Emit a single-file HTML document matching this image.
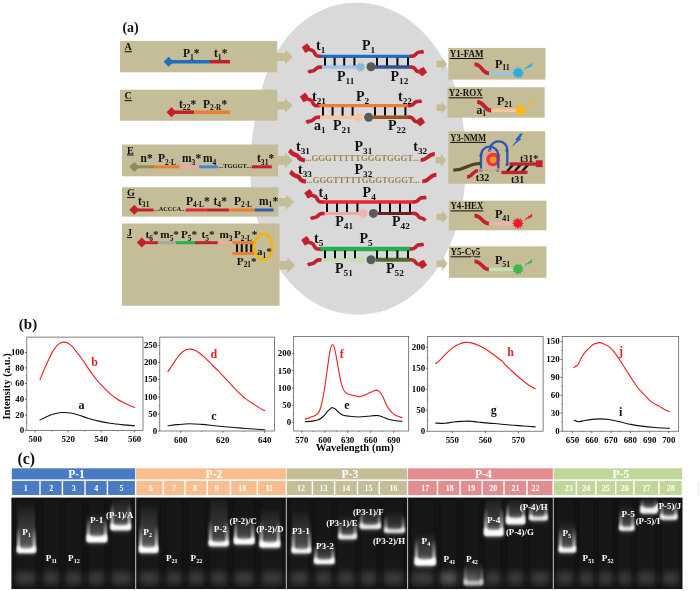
<!DOCTYPE html>
<html lang="en"><head><meta charset="utf-8"><title>Figure</title>
<style>html,body{margin:0;padding:0;background:#fff;}svg{display:block;}</style></head>
<body>
<svg width="700" height="591" viewBox="0 0 700 591">
<defs><filter id="b0" x="-30%" y="-60%" width="160%" height="220%"><feGaussianBlur stdDeviation="0.9"/></filter><linearGradient id="gw" x1="0" y1="0" x2="0" y2="1"><stop offset="0" stop-color="#fff" stop-opacity="0"/><stop offset="0.6" stop-color="#fff" stop-opacity="0.6"/><stop offset="1" stop-color="#fff" stop-opacity="1"/></linearGradient><filter id="b1" x="-30%" y="-60%" width="160%" height="220%"><feGaussianBlur stdDeviation="1.1"/></filter><filter id="b2" x="-30%" y="-60%" width="160%" height="220%"><feGaussianBlur stdDeviation="2.2"/></filter><filter id="b3" x="-40%" y="-40%" width="180%" height="180%"><feGaussianBlur stdDeviation="3.5"/></filter><linearGradient id="gl" x1="0" y1="0" x2="0" y2="1"><stop offset="0" stop-color="#fff" stop-opacity="0.05"/><stop offset="0.75" stop-color="#fff" stop-opacity="0.45"/><stop offset="1" stop-color="#fff" stop-opacity="0.75"/></linearGradient></defs>
<rect width="700" height="591" fill="#fff"/>
<g font-family='"Liberation Serif","DejaVu Serif",serif' font-weight="bold">
<path d="M250.4,160.0 C250.5,156.9 250.7,153.8 250.9,150.6 C251.1,147.5 251.4,144.4 251.8,141.3 C252.1,138.1 252.5,135.0 253.0,131.9 C253.4,128.7 253.9,125.5 254.4,122.3 C255.0,119.1 255.6,115.8 256.2,112.5 C256.8,109.2 257.5,105.9 258.3,102.4 C259.1,99.0 259.9,95.5 260.9,92.0 C261.8,88.5 262.9,84.8 264.1,81.2 C265.3,77.5 266.6,73.8 268.1,70.1 C269.6,66.4 271.3,62.6 273.2,58.9 C275.1,55.2 277.2,51.5 279.5,47.9 C281.8,44.3 284.3,40.7 287.1,37.3 C289.9,33.9 292.9,30.5 296.2,27.5 C299.4,24.4 302.9,21.5 306.6,18.9 C310.3,16.3 314.2,13.9 318.3,11.8 C322.3,9.8 326.6,8.0 331.0,6.6 C335.3,5.3 339.8,4.2 344.3,3.5 C348.8,2.9 353.4,2.6 358.0,2.7 C362.6,2.7 367.2,3.2 371.6,4.0 C376.1,4.8 380.6,6.0 384.9,7.5 C389.2,9.0 393.4,10.8 397.4,12.9 C401.4,15.0 405.3,17.4 409.0,20.0 C412.6,22.6 416.1,25.5 419.3,28.5 C422.6,31.5 425.6,34.7 428.4,38.0 C431.3,41.3 433.9,44.7 436.3,48.2 C438.7,51.7 440.8,55.3 442.8,58.9 C444.8,62.5 446.6,66.1 448.3,69.7 C449.9,73.4 451.3,77.0 452.7,80.6 C454.0,84.2 455.1,87.7 456.2,91.3 C457.2,94.8 458.1,98.3 459.0,101.7 C459.8,105.2 460.5,108.6 461.1,111.9 C461.8,115.3 462.3,118.6 462.8,121.8 C463.3,125.1 463.7,128.4 464.1,131.6 C464.5,134.8 464.8,138.0 465.0,141.1 C465.3,144.3 465.5,147.4 465.6,150.6 C465.7,153.7 465.8,156.9 465.8,160.0 C465.9,163.1 465.8,166.3 465.8,169.4 C465.7,172.6 465.5,175.7 465.3,178.9 C465.1,182.1 464.8,185.3 464.5,188.5 C464.1,191.7 463.7,195.0 463.2,198.3 C462.7,201.6 462.1,204.9 461.4,208.2 C460.7,211.6 459.9,214.9 459.1,218.4 C458.2,221.8 457.2,225.2 456.1,228.7 C455.0,232.2 453.8,235.7 452.4,239.2 C451.0,242.7 449.5,246.3 447.8,249.8 C446.1,253.4 444.3,256.9 442.3,260.4 C440.2,263.9 438.0,267.5 435.6,270.9 C433.2,274.3 430.6,277.6 427.8,280.8 C424.9,284.1 421.9,287.2 418.7,290.1 C415.4,293.0 412.0,295.8 408.4,298.3 C404.7,300.9 400.9,303.2 396.9,305.2 C392.9,307.2 388.8,309.0 384.5,310.4 C380.3,311.8 375.9,312.9 371.4,313.6 C367.0,314.3 362.5,314.7 358.0,314.7 C353.5,314.7 349.0,314.3 344.6,313.6 C340.1,312.9 335.7,311.8 331.5,310.4 C327.2,309.0 323.1,307.3 319.1,305.3 C315.1,303.2 311.3,300.9 307.6,298.4 C304.0,295.8 300.6,293.0 297.3,290.1 C294.1,287.1 291.1,284.0 288.3,280.7 C285.5,277.5 282.9,274.1 280.5,270.7 C278.1,267.3 275.9,263.7 273.9,260.2 C271.9,256.7 270.1,253.1 268.4,249.6 C266.7,246.1 265.2,242.5 263.8,239.0 C262.4,235.5 261.2,232.0 260.1,228.6 C258.9,225.1 257.9,221.7 257.0,218.3 C256.1,214.9 255.3,211.6 254.6,208.2 C253.9,204.9 253.3,201.6 252.7,198.3 C252.2,195.0 251.7,191.8 251.4,188.6 C251.0,185.3 250.8,182.1 250.6,178.9 C250.4,175.8 250.3,172.6 250.2,169.4 C250.2,166.3 250.2,163.1 250.4,160.0 Z" fill="#D9D9D9"/>
<text x="122.4" y="31.6" font-size="14" fill="#111" text-anchor="start" font-weight="bold">(a)</text>
<rect x="120" y="40.9" width="157.2" height="31.4" fill="#C4BD97"/>
<rect x="120" y="89.7" width="157.4" height="31" fill="#C4BD97"/>
<rect x="122" y="144.5" width="156" height="31.8" fill="#C4BD97"/>
<rect x="122" y="187.2" width="156.5" height="29.4" fill="#C4BD97"/>
<rect x="122" y="223.5" width="157.6" height="82.3" fill="#C4BD97"/>
<polygon points="277,53.1 285.3,53.1 285.3,49.6 292.8,57.1 285.3,64.6 285.3,61.1 277,61.1" fill="#C4BD97"/>
<polygon points="277,101.5 285.0,101.5 285.0,98.2 292.8,105.5 285.0,112.8 285.0,109.5 277,109.5" fill="#C4BD97"/>
<polygon points="278,156.05 284.8,156.05 284.8,152.55 292.8,160.4 284.8,168.25 284.8,164.75 278,164.75" fill="#C4BD97"/>
<polygon points="278.4,197.95 286.3,197.95 286.3,194.7 294.3,202.1 286.3,209.5 286.3,206.25 278.4,206.25" fill="#C4BD97"/>
<polygon points="279.5,261.0 287.4,261.0 287.4,257.2 295.2,265.2 287.4,273.2 287.4,269.4 279.5,269.4" fill="#C4BD97"/>
<text x="124.6" y="50.2" font-size="10.1" fill="#111" text-anchor="start" font-weight="bold" text-decoration="underline">A</text>
<polygon points="163.6,61.7 168.6,56.7 173.6,61.7 168.6,66.7" fill="#1F6FC0"/>
<line x1="172" y1="61.7" x2="210" y2="61.7" stroke="#1F6FC0" stroke-width="3.5" stroke-linecap="butt"/>
<line x1="210" y1="61.7" x2="230" y2="61.7" stroke="#C4202B" stroke-width="3.5" stroke-linecap="butt"/>
<text x="183" y="57" font-size="11.5" fill="#111" text-anchor="start" font-weight="bold">P<tspan dy="2.53" font-size="7.59">1</tspan><tspan dy="-2.53">*</tspan></text>
<text x="214" y="57" font-size="11.5" fill="#111" text-anchor="start" font-weight="bold">t<tspan dy="2.53" font-size="7.59">1</tspan><tspan dy="-2.53">*</tspan></text>
<text x="124.6" y="99.1" font-size="10.1" fill="#111" text-anchor="start" font-weight="bold" text-decoration="underline">C</text>
<polygon points="166.5,112.3 171.5,107.3 176.5,112.3 171.5,117.3" fill="#C4202B"/>
<line x1="175" y1="112.2" x2="194" y2="112.2" stroke="#C4202B" stroke-width="3.5" stroke-linecap="butt"/>
<line x1="194" y1="112.2" x2="230" y2="112.2" stroke="#ED7D31" stroke-width="3.5" stroke-linecap="butt"/>
<text x="179" y="107.5" font-size="11.5" fill="#111" text-anchor="start" font-weight="bold">t<tspan dy="2.53" font-size="7.59">22</tspan><tspan dy="-2.53">*</tspan></text>
<text x="203" y="107.5" font-size="11.5" fill="#111" text-anchor="start" font-weight="bold">P<tspan dy="2.53" font-size="7.3">2-R</tspan><tspan dy="-2.53">*</tspan></text>
<text x="127" y="153.5" font-size="10.1" fill="#111" text-anchor="start" font-weight="bold" text-decoration="underline">E</text>
<polygon points="129.3,167 134.3,162 139.3,167 134.3,172" fill="#948A54"/>
<line x1="138" y1="166.8" x2="154" y2="166.8" stroke="#948A54" stroke-width="3" stroke-linecap="butt"/>
<line x1="154" y1="166.8" x2="179.7" y2="166.8" stroke="#ED7D31" stroke-width="3" stroke-linecap="butt"/>
<line x1="179.7" y1="166.8" x2="199" y2="166.8" stroke="#F2A6A6" stroke-width="3" stroke-linecap="butt"/>
<line x1="199" y1="166.8" x2="217.8" y2="166.8" stroke="#4A86D0" stroke-width="3" stroke-linecap="butt"/>
<text x="218.3" y="168" font-size="6.2" fill="#111" text-anchor="start" font-weight="bold" textLength="33" lengthAdjust="spacingAndGlyphs">...TGGGT...</text>
<line x1="251.7" y1="166.8" x2="271.8" y2="166.8" stroke="#C4202B" stroke-width="3" stroke-linecap="butt"/>
<text x="140.5" y="162" font-size="11.5" fill="#111" text-anchor="start" font-weight="bold">n*</text>
<text x="158" y="162" font-size="11.5" fill="#111" text-anchor="start" font-weight="bold">P<tspan dy="2.53" font-size="7.3">2-L</tspan></text>
<text x="182" y="162" font-size="11.5" fill="#111" text-anchor="start" font-weight="bold">m<tspan dy="2.53" font-size="7.59">3</tspan><tspan dy="-2.53">*</tspan></text>
<text x="203" y="162" font-size="11.5" fill="#111" text-anchor="start" font-weight="bold">m<tspan dy="2.53" font-size="7.59">4</tspan></text>
<text x="257" y="162" font-size="11.5" fill="#111" text-anchor="start" font-weight="bold">t<tspan dy="2.53" font-size="7.59">31</tspan><tspan dy="-2.53">*</tspan></text>
<text x="127" y="196" font-size="10.1" fill="#111" text-anchor="start" font-weight="bold" text-decoration="underline">G</text>
<polygon points="129.3,209.8 134.3,204.8 139.3,209.8 134.3,214.8" fill="#C4202B"/>
<line x1="138" y1="210" x2="153.5" y2="210" stroke="#C4202B" stroke-width="3" stroke-linecap="butt"/>
<text x="154" y="211.3" font-size="6.2" fill="#111" text-anchor="start" font-weight="bold" textLength="32" lengthAdjust="spacingAndGlyphs">...ACCCA...</text>
<line x1="186" y1="210" x2="206.7" y2="210" stroke="#EE2233" stroke-width="3" stroke-linecap="butt"/>
<line x1="206.7" y1="210" x2="229" y2="210" stroke="#C4202B" stroke-width="3" stroke-linecap="butt"/>
<line x1="229" y1="210" x2="254.8" y2="210" stroke="#ED7D31" stroke-width="3" stroke-linecap="butt"/>
<line x1="254.8" y1="210" x2="273.6" y2="210" stroke="#2F5FAE" stroke-width="3" stroke-linecap="butt"/>
<text x="138" y="204.5" font-size="11.5" fill="#111" text-anchor="start" font-weight="bold">t<tspan dy="2.53" font-size="7.59">31</tspan></text>
<text x="186" y="204.5" font-size="11.5" fill="#111" text-anchor="start" font-weight="bold">P<tspan dy="2.53" font-size="7.3">4-L</tspan><tspan dy="-2.53">*</tspan></text>
<text x="213.5" y="204.5" font-size="11.5" fill="#111" text-anchor="start" font-weight="bold">t<tspan dy="2.53" font-size="7.59">4</tspan><tspan dy="-2.53">*</tspan></text>
<text x="234" y="204.5" font-size="11.5" fill="#111" text-anchor="start" font-weight="bold">P<tspan dy="2.53" font-size="7.3">2-L</tspan></text>
<text x="259" y="204.5" font-size="11.5" fill="#111" text-anchor="start" font-weight="bold">m<tspan dy="2.53" font-size="7.59">1</tspan><tspan dy="-2.53">*</tspan></text>
<text x="127" y="236" font-size="10.1" fill="#111" text-anchor="start" font-weight="bold" text-decoration="underline">J</text>
<polygon points="136.8,242.6 141.8,237.6 146.8,242.6 141.8,247.6" fill="#C4202B"/>
<line x1="145" y1="242.7" x2="157.9" y2="242.7" stroke="#C4202B" stroke-width="3" stroke-linecap="butt"/>
<line x1="157.9" y1="242.7" x2="175.9" y2="242.7" stroke="#A6A6A6" stroke-width="3" stroke-linecap="butt"/>
<line x1="175.9" y1="242.7" x2="195.1" y2="242.7" stroke="#22B14C" stroke-width="3" stroke-linecap="butt"/>
<line x1="195.1" y1="242.7" x2="217.8" y2="242.7" stroke="#C4202B" stroke-width="3" stroke-linecap="butt"/>
<line x1="217.8" y1="242.7" x2="232.4" y2="242.7" stroke="#F2A6A6" stroke-width="3" stroke-linecap="butt"/>
<line x1="232.4" y1="242.7" x2="254" y2="242.7" stroke="#ED7D31" stroke-width="3" stroke-linecap="butt"/>
<line x1="232.4" y1="253.5" x2="254" y2="253.5" stroke="#ED7D31" stroke-width="3" stroke-linecap="butt"/>
<line x1="237" y1="244.2" x2="237" y2="252" stroke="#111" stroke-width="2.1" stroke-linecap="butt"/>
<line x1="241.8" y1="244.2" x2="241.8" y2="252" stroke="#111" stroke-width="2.1" stroke-linecap="butt"/>
<line x1="246.5" y1="244.2" x2="246.5" y2="252" stroke="#111" stroke-width="2.1" stroke-linecap="butt"/>
<line x1="251.2" y1="244.2" x2="251.2" y2="252" stroke="#111" stroke-width="2.1" stroke-linecap="butt"/>
<ellipse cx="263.3" cy="246.9" rx="8.9" ry="13" fill="none" stroke="#F5B400" stroke-width="2.4"/>
<text x="145.5" y="238.3" font-size="11.2" fill="#111" text-anchor="start" font-weight="bold">t<tspan dy="2.46" font-size="7.39">6</tspan><tspan dy="-2.46">*</tspan></text>
<text x="160.3" y="238.3" font-size="11.2" fill="#111" text-anchor="start" font-weight="bold">m<tspan dy="2.46" font-size="7.39">5</tspan><tspan dy="-2.46">*</tspan></text>
<text x="181" y="238.3" font-size="11.2" fill="#111" text-anchor="start" font-weight="bold">P<tspan dy="2.46" font-size="7.39">5</tspan><tspan dy="-2.46">*</tspan></text>
<text x="201.5" y="238.3" font-size="11.2" fill="#111" text-anchor="start" font-weight="bold">t<tspan dy="2.46" font-size="7.39">5</tspan><tspan dy="-2.46">*</tspan></text>
<text x="219.5" y="238.3" font-size="11.2" fill="#111" text-anchor="start" font-weight="bold">m<tspan dy="2.46" font-size="7.39">3</tspan></text>
<text x="234" y="238.3" font-size="11.2" fill="#111" text-anchor="start" font-weight="bold">P<tspan dy="2.46" font-size="7.3">2-L</tspan><tspan dy="-2.46">*</tspan></text>
<text x="257" y="255.3" font-size="11" fill="#111" text-anchor="start" font-weight="bold">a<tspan dy="2.42" font-size="7.26">1</tspan><tspan dy="-2.42">*</tspan></text>
<text x="236.8" y="264.6" font-size="11.2" fill="#111" text-anchor="start" font-weight="bold">P<tspan dy="2.46" font-size="7.39">21</tspan><tspan dy="-2.46">*</tspan></text>
<line x1="320.5" y1="56.3" x2="410" y2="56.3" stroke="#1F6FC0" stroke-width="3.3" stroke-linecap="butt"/>
<line x1="321.5" y1="67.1" x2="358" y2="67.1" stroke="#9DC3E6" stroke-width="3.5" stroke-linecap="butt"/>
<line x1="375" y1="67.1" x2="410" y2="67.1" stroke="#2F5597" stroke-width="3.5" stroke-linecap="butt"/>
<line x1="325" y1="57.699999999999996" x2="325" y2="65.5" stroke="#0a0a0a" stroke-width="2.0" stroke-linecap="butt"/>
<line x1="334.6" y1="57.699999999999996" x2="334.6" y2="65.5" stroke="#0a0a0a" stroke-width="2.0" stroke-linecap="butt"/>
<line x1="344.2" y1="57.699999999999996" x2="344.2" y2="65.5" stroke="#0a0a0a" stroke-width="2.0" stroke-linecap="butt"/>
<line x1="354.4" y1="57.699999999999996" x2="354.4" y2="65.5" stroke="#0a0a0a" stroke-width="2.0" stroke-linecap="butt"/>
<line x1="377" y1="57.699999999999996" x2="377" y2="65.5" stroke="#0a0a0a" stroke-width="2.0" stroke-linecap="butt"/>
<line x1="387" y1="57.699999999999996" x2="387" y2="65.5" stroke="#0a0a0a" stroke-width="2.0" stroke-linecap="butt"/>
<line x1="397.4" y1="57.699999999999996" x2="397.4" y2="65.5" stroke="#0a0a0a" stroke-width="2.0" stroke-linecap="butt"/>
<line x1="408" y1="57.699999999999996" x2="408" y2="65.5" stroke="#0a0a0a" stroke-width="2.0" stroke-linecap="butt"/>
<polygon points="365.90,67.20 363.64,68.22 364.87,70.37 362.44,69.87 362.17,72.34 360.50,70.50 358.83,72.34 358.56,69.87 356.13,70.37 357.36,68.22 355.10,67.20 357.36,66.18 356.13,64.03 358.56,64.53 358.83,62.06 360.50,63.90 362.17,62.06 362.44,64.53 364.87,64.03 363.64,66.18" fill="#8DB4E2"/>
<circle cx="371" cy="66.8" r="4.5" fill="#5A5A5A"/>
<path d="M321.0,56.1 C319.0,56.5 317.2,56.7 315.8,55.1 S314.4,51.1 312.4,50.5 S309.5,49.9 307.2,48.7" fill="none" stroke="#C4202B" stroke-width="3.6" stroke-linecap="butt"/>
<polygon points="302.2,47.2 307.1,43.7 309.6,46.8 308.6,50.7 305.4,52.5" fill="#C4202B" stroke="#C4202B" stroke-width="0.8" stroke-linejoin="round"/>
<path d="M322.0,67.3 C320.0,67.0 318.2,67.0 316.8,68.1 S314.6,70.6 313.0,70.9 S310.0,71.3 308.2,72.3" fill="none" stroke="#C4202B" stroke-width="3.6" stroke-linecap="butt"/>
<path d="M409.7,56.1 C411.7,56.4 413.5,56.4 414.9,55.1 S417.1,52.4 418.7,52.2 S421.7,52.1 423.7,51.5" fill="none" stroke="#C4202B" stroke-width="3.6" stroke-linecap="butt"/>
<path d="M409.7,67.1 C411.7,66.8 413.5,67.1 414.7,68.5 S416.5,71.4 418.1,71.6 S420.3,71.1 421.7,71.7" fill="none" stroke="#C4202B" stroke-width="3.6" stroke-linecap="butt"/>
<polygon points="420.1,69.1 423.6,67.5 426.7,72.4 422.1,75.9 419.3,73.3" fill="#C4202B" stroke="#C4202B" stroke-width="0.8" stroke-linejoin="round"/>
<text x="316" y="50" font-size="14" fill="#111" text-anchor="start" font-weight="bold">t<tspan dy="3.08" font-size="9.24">1</tspan></text>
<text x="362" y="50" font-size="14" fill="#111" text-anchor="start" font-weight="bold">P<tspan dy="3.08" font-size="9.24">1</tspan></text>
<text x="337" y="80.6" font-size="14" fill="#111" text-anchor="start" font-weight="bold">P<tspan dy="3.08" font-size="9.24">11</tspan></text>
<text x="390.5" y="80.6" font-size="14" fill="#111" text-anchor="start" font-weight="bold">P<tspan dy="3.08" font-size="9.24">12</tspan></text>
<line x1="318.6" y1="105.7" x2="408" y2="105.7" stroke="#ED7D31" stroke-width="3.3" stroke-linecap="butt"/>
<line x1="319.6" y1="117.2" x2="356" y2="117.2" stroke="#F8C49C" stroke-width="3.5" stroke-linecap="butt"/>
<line x1="373" y1="117.2" x2="408" y2="117.2" stroke="#A0521E" stroke-width="3.5" stroke-linecap="butt"/>
<line x1="323" y1="107.10000000000001" x2="323" y2="115.60000000000001" stroke="#0a0a0a" stroke-width="2.0" stroke-linecap="butt"/>
<line x1="332.6" y1="107.10000000000001" x2="332.6" y2="115.60000000000001" stroke="#0a0a0a" stroke-width="2.0" stroke-linecap="butt"/>
<line x1="342.6" y1="107.10000000000001" x2="342.6" y2="115.60000000000001" stroke="#0a0a0a" stroke-width="2.0" stroke-linecap="butt"/>
<line x1="352.6" y1="107.10000000000001" x2="352.6" y2="115.60000000000001" stroke="#0a0a0a" stroke-width="2.0" stroke-linecap="butt"/>
<line x1="375" y1="107.10000000000001" x2="375" y2="115.60000000000001" stroke="#0a0a0a" stroke-width="2.0" stroke-linecap="butt"/>
<line x1="385" y1="107.10000000000001" x2="385" y2="115.60000000000001" stroke="#0a0a0a" stroke-width="2.0" stroke-linecap="butt"/>
<line x1="395" y1="107.10000000000001" x2="395" y2="115.60000000000001" stroke="#0a0a0a" stroke-width="2.0" stroke-linecap="butt"/>
<line x1="405.4" y1="107.10000000000001" x2="405.4" y2="115.60000000000001" stroke="#0a0a0a" stroke-width="2.0" stroke-linecap="butt"/>
<polygon points="364.00,117.20 361.74,118.22 362.97,120.37 360.54,119.87 360.27,122.34 358.60,120.50 356.93,122.34 356.66,119.87 354.23,120.37 355.46,118.22 353.20,117.20 355.46,116.18 354.23,114.03 356.66,114.53 356.93,112.06 358.60,113.90 360.27,112.06 360.54,114.53 362.97,114.03 361.74,116.18" fill="#F8C49C"/>
<circle cx="368.6" cy="117.2" r="4.5" fill="#5A5A5A"/>
<path d="M319.1,105.5 C317.1,105.9 315.3,106.1 313.9,104.5 S312.5,100.5 310.5,99.9 S307.6,99.3 305.3,98.1" fill="none" stroke="#C4202B" stroke-width="3.6" stroke-linecap="butt"/>
<polygon points="300.3,96.6 305.2,93.1 307.7,96.2 306.7,100.1 303.5,101.9" fill="#C4202B" stroke="#C4202B" stroke-width="0.8" stroke-linejoin="round"/>
<path d="M320.1,117.4 C318.1,117.1 316.3,117.1 314.9,118.2 S312.7,120.7 311.1,121.0 S308.1,121.4 306.3,122.4" fill="none" stroke="#C4202B" stroke-width="3.6" stroke-linecap="butt"/>
<path d="M407.7,105.5 C409.7,105.8 411.5,105.8 412.9,104.5 S415.1,101.8 416.7,101.6 S419.7,101.5 421.7,100.9" fill="none" stroke="#C4202B" stroke-width="3.6" stroke-linecap="butt"/>
<path d="M407.7,117.2 C409.7,116.9 411.5,117.2 412.7,118.6 S414.5,121.5 416.1,121.7 S418.3,121.2 419.7,121.8" fill="none" stroke="#C4202B" stroke-width="3.6" stroke-linecap="butt"/>
<polygon points="418.1,119.2 421.6,117.6 424.7,122.5 420.1,126.0 417.3,123.4" fill="#C4202B" stroke="#C4202B" stroke-width="0.8" stroke-linejoin="round"/>
<text x="312" y="100.6" font-size="14" fill="#111" text-anchor="start" font-weight="bold">t<tspan dy="3.08" font-size="9.24">21</tspan></text>
<text x="356" y="100.6" font-size="14" fill="#111" text-anchor="start" font-weight="bold">P<tspan dy="3.08" font-size="9.24">2</tspan></text>
<text x="398" y="100.6" font-size="14" fill="#111" text-anchor="start" font-weight="bold">t<tspan dy="3.08" font-size="9.24">22</tspan></text>
<text x="314" y="129.6" font-size="14" fill="#111" text-anchor="start" font-weight="bold">a<tspan dy="3.08" font-size="9.24">1</tspan></text>
<text x="333" y="130" font-size="14" fill="#111" text-anchor="start" font-weight="bold">P<tspan dy="3.08" font-size="9.24">21</tspan></text>
<text x="388" y="130" font-size="14" fill="#111" text-anchor="start" font-weight="bold">P<tspan dy="3.08" font-size="9.24">22</tspan></text>
<text x="305" y="161.3" font-size="8.7" fill="#968848" text-anchor="start" font-weight="bold" textLength="114" lengthAdjust="spacingAndGlyphs">...GGGTTTTTGGGTGGGT...</text>
<text x="306.2" y="183" font-size="8.7" fill="#968848" text-anchor="start" font-weight="bold" textLength="113.5" lengthAdjust="spacingAndGlyphs">...GGGTTTTTGGGTGGGT...</text>
<path d="M304.9,160.4 C303.4,160.2 301.7,160.0 300.3,159.0 S298.5,156.2 297.3,155.6 S294.5,154.8 293.1,154.0 S290.5,151.2 289.3,150.4" fill="none" stroke="#C4202B" stroke-width="4.4" stroke-linecap="butt"/>
<path d="M420.6,160.3 C427.7,160.3 427.7,154.0 434.8,154.0" fill="none" stroke="#C4202B" stroke-width="3.9" stroke-linecap="butt"/>
<path d="M305.9,181.6 C304.4,181.4 302.7,181.2 301.3,180.2 S299.5,177.4 298.3,176.8 S295.5,176.0 294.1,175.2 S291.5,172.4 290.3,171.6" fill="none" stroke="#C4202B" stroke-width="4.4" stroke-linecap="butt"/>
<path d="M422.3,181.4 C429.4,181.4 429.4,174.8 436.4,174.8" fill="none" stroke="#C4202B" stroke-width="3.9" stroke-linecap="butt"/>
<text x="296" y="150.5" font-size="14" fill="#111" text-anchor="start" font-weight="bold">t<tspan dy="3.08" font-size="9.24">31</tspan></text>
<text x="354.5" y="150.5" font-size="14" fill="#111" text-anchor="start" font-weight="bold">P<tspan dy="3.08" font-size="9.24">31</tspan></text>
<text x="413.3" y="150.8" font-size="14" fill="#111" text-anchor="start" font-weight="bold">t<tspan dy="3.08" font-size="9.24">32</tspan></text>
<text x="298" y="173.5" font-size="14" fill="#111" text-anchor="start" font-weight="bold">t<tspan dy="3.08" font-size="9.24">33</tspan></text>
<text x="354.5" y="173.5" font-size="14" fill="#111" text-anchor="start" font-weight="bold">P<tspan dy="3.08" font-size="9.24">32</tspan></text>
<line x1="323" y1="202" x2="412.6" y2="202" stroke="#EE2233" stroke-width="3.6" stroke-linecap="butt"/>
<line x1="324" y1="213.5" x2="360" y2="213.5" stroke="#F2A6A6" stroke-width="3.2" stroke-linecap="butt"/>
<line x1="378" y1="213.5" x2="412.6" y2="213.5" stroke="#6B1F1F" stroke-width="3.2" stroke-linecap="butt"/>
<line x1="327" y1="203.4" x2="327" y2="211.9" stroke="#0a0a0a" stroke-width="2.0" stroke-linecap="butt"/>
<line x1="337" y1="203.4" x2="337" y2="211.9" stroke="#0a0a0a" stroke-width="2.0" stroke-linecap="butt"/>
<line x1="347" y1="203.4" x2="347" y2="211.9" stroke="#0a0a0a" stroke-width="2.0" stroke-linecap="butt"/>
<line x1="357.4" y1="203.4" x2="357.4" y2="211.9" stroke="#0a0a0a" stroke-width="2.0" stroke-linecap="butt"/>
<line x1="380" y1="203.4" x2="380" y2="211.9" stroke="#0a0a0a" stroke-width="2.0" stroke-linecap="butt"/>
<line x1="390" y1="203.4" x2="390" y2="211.9" stroke="#0a0a0a" stroke-width="2.0" stroke-linecap="butt"/>
<line x1="400" y1="203.4" x2="400" y2="211.9" stroke="#0a0a0a" stroke-width="2.0" stroke-linecap="butt"/>
<line x1="410" y1="203.4" x2="410" y2="211.9" stroke="#0a0a0a" stroke-width="2.0" stroke-linecap="butt"/>
<polygon points="368.60,213.30 366.34,214.32 367.57,216.47 365.14,215.97 364.87,218.44 363.20,216.60 361.53,218.44 361.26,215.97 358.83,216.47 360.06,214.32 357.80,213.30 360.06,212.28 358.83,210.13 361.26,210.63 361.53,208.16 363.20,210.00 364.87,208.16 365.14,210.63 367.57,210.13 366.34,212.28" fill="#F4B0B0"/>
<circle cx="373.4" cy="213.4" r="4.5" fill="#5A5A5A"/>
<path d="M323.5,201.8 C321.5,202.2 319.7,202.4 318.3,200.8 S316.9,196.8 314.9,196.2 S312.0,195.6 309.7,194.4" fill="none" stroke="#C4202B" stroke-width="3.6" stroke-linecap="butt"/>
<polygon points="304.7,192.9 309.6,189.4 312.1,192.5 311.1,196.4 307.9,198.2" fill="#C4202B" stroke="#C4202B" stroke-width="0.8" stroke-linejoin="round"/>
<path d="M324.5,213.7 C322.5,213.4 320.7,213.4 319.3,214.5 S317.1,217.0 315.5,217.3 S312.5,217.7 310.7,218.7" fill="none" stroke="#C4202B" stroke-width="3.6" stroke-linecap="butt"/>
<path d="M412.3,201.8 C414.3,202.1 416.1,202.1 417.5,200.8 S419.7,198.1 421.3,197.9 S424.3,197.8 426.3,197.2" fill="none" stroke="#C4202B" stroke-width="3.6" stroke-linecap="butt"/>
<path d="M412.3,213.5 C414.3,213.2 416.1,213.5 417.3,214.9 S419.1,217.8 420.7,218.0 S423.3,218.1 425.5,220.5" fill="none" stroke="#C4202B" stroke-width="3.6" stroke-linecap="butt"/>
<text x="318.6" y="197" font-size="14" fill="#111" text-anchor="start" font-weight="bold">t<tspan dy="3.08" font-size="9.24">4</tspan></text>
<text x="362.6" y="197" font-size="14" fill="#111" text-anchor="start" font-weight="bold">P<tspan dy="3.08" font-size="9.24">4</tspan></text>
<text x="335.3" y="226" font-size="14" fill="#111" text-anchor="start" font-weight="bold">P<tspan dy="3.08" font-size="9.24">41</tspan></text>
<text x="392" y="226" font-size="14" fill="#111" text-anchor="start" font-weight="bold">P<tspan dy="3.08" font-size="9.24">42</tspan></text>
<line x1="320" y1="249" x2="410" y2="249" stroke="#22B14C" stroke-width="4.3" stroke-linecap="butt"/>
<line x1="321" y1="259.8" x2="359" y2="259.8" stroke="#C5E0B4" stroke-width="4.0" stroke-linecap="butt"/>
<line x1="375.4" y1="259.8" x2="410" y2="259.8" stroke="#4F6B2E" stroke-width="4.0" stroke-linecap="butt"/>
<line x1="325" y1="250.4" x2="325" y2="258.2" stroke="#0a0a0a" stroke-width="2.0" stroke-linecap="butt"/>
<line x1="335" y1="250.4" x2="335" y2="258.2" stroke="#0a0a0a" stroke-width="2.0" stroke-linecap="butt"/>
<line x1="345" y1="250.4" x2="345" y2="258.2" stroke="#0a0a0a" stroke-width="2.0" stroke-linecap="butt"/>
<line x1="355" y1="250.4" x2="355" y2="258.2" stroke="#0a0a0a" stroke-width="2.0" stroke-linecap="butt"/>
<line x1="377" y1="250.4" x2="377" y2="258.2" stroke="#0a0a0a" stroke-width="2.0" stroke-linecap="butt"/>
<line x1="387" y1="250.4" x2="387" y2="258.2" stroke="#0a0a0a" stroke-width="2.0" stroke-linecap="butt"/>
<line x1="397.4" y1="250.4" x2="397.4" y2="258.2" stroke="#0a0a0a" stroke-width="2.0" stroke-linecap="butt"/>
<line x1="408" y1="250.4" x2="408" y2="258.2" stroke="#0a0a0a" stroke-width="2.0" stroke-linecap="butt"/>
<polygon points="366.00,260.00 363.74,261.02 364.97,263.17 362.54,262.67 362.27,265.14 360.60,263.30 358.93,265.14 358.66,262.67 356.23,263.17 357.46,261.02 355.20,260.00 357.46,258.98 356.23,256.83 358.66,257.33 358.93,254.86 360.60,256.70 362.27,254.86 362.54,257.33 364.97,256.83 363.74,258.98" fill="#C5E0B4"/>
<circle cx="371" cy="259.7" r="4.5" fill="#5A5A5A"/>
<path d="M320.5,248.8 C318.5,249.2 316.7,249.4 315.3,247.8 S313.9,243.8 311.9,243.2 S309.0,242.6 306.7,241.4" fill="none" stroke="#C4202B" stroke-width="3.6" stroke-linecap="butt"/>
<polygon points="301.7,239.9 306.6,236.4 309.1,239.5 308.1,243.4 304.9,245.2" fill="#C4202B" stroke="#C4202B" stroke-width="0.8" stroke-linejoin="round"/>
<path d="M321.5,260.0 C319.5,259.7 317.7,259.7 316.3,260.8 S314.1,263.3 312.5,263.6 S309.5,264.0 307.7,265.0" fill="none" stroke="#C4202B" stroke-width="3.6" stroke-linecap="butt"/>
<path d="M409.7,248.8 C411.7,249.1 413.5,249.1 414.9,247.8 S417.1,245.1 418.7,244.9 S421.7,244.8 423.7,244.2" fill="none" stroke="#C4202B" stroke-width="3.6" stroke-linecap="butt"/>
<path d="M409.7,259.8 C411.7,259.5 413.5,259.8 414.7,261.2 S416.5,264.1 418.1,264.3 S420.3,263.8 421.7,264.4" fill="none" stroke="#C4202B" stroke-width="3.6" stroke-linecap="butt"/>
<polygon points="420.1,261.8 423.6,260.2 426.7,265.1 422.1,268.6 419.3,266.0" fill="#C4202B" stroke="#C4202B" stroke-width="0.8" stroke-linejoin="round"/>
<text x="314" y="243" font-size="14" fill="#111" text-anchor="start" font-weight="bold">t<tspan dy="3.08" font-size="9.24">5</tspan></text>
<text x="359.4" y="243" font-size="14" fill="#111" text-anchor="start" font-weight="bold">P<tspan dy="3.08" font-size="9.24">5</tspan></text>
<text x="335" y="273" font-size="14" fill="#111" text-anchor="start" font-weight="bold">P<tspan dy="3.08" font-size="9.24">51</tspan></text>
<text x="386" y="273" font-size="14" fill="#111" text-anchor="start" font-weight="bold">P<tspan dy="3.08" font-size="9.24">52</tspan></text>
<polygon points="436.5,60.849999999999994 441.8,60.849999999999994 441.8,57.599999999999994 447,64.1 441.8,70.6 441.8,67.35 436.5,67.35" fill="#C4BD97"/>
<polygon points="436.5,104.55 441.5,104.55 441.5,101.3 446.7,107.8 441.5,114.3 441.5,111.05 436.5,111.05" fill="#C4BD97"/>
<polygon points="435.5,156.95 440.8,156.95 440.8,153.45 446,160.2 440.8,166.95 440.8,163.45 435.5,163.45" fill="#C4BD97"/>
<polygon points="436.5,213.65 442.20000000000005,213.65 442.20000000000005,210.4 447.6,216.9 442.20000000000005,223.4 442.20000000000005,220.15 436.5,220.15" fill="#C4BD97"/>
<polygon points="436.5,260.45 442.20000000000005,260.45 442.20000000000005,256.95 447.6,263.7 442.20000000000005,270.45 442.20000000000005,266.95 436.5,266.95" fill="#C4BD97"/>
<rect x="448.3" y="47.9" width="97.2" height="31.7" fill="#C4BD97"/>
<rect x="447.5" y="87.2" width="97.2" height="30.5" fill="#C4BD97"/>
<rect x="448.3" y="131.3" width="96.9" height="52.5" fill="#C4BD97"/>
<rect x="448.9" y="200.7" width="97.5" height="29.6" fill="#C4BD97"/>
<rect x="448.9" y="246.4" width="97.5" height="31.4" fill="#C4BD97"/>
<text x="449.8" y="57" font-size="10.2" fill="#111" text-anchor="start" font-weight="bold" text-decoration="underline" textLength="33.6" lengthAdjust="spacingAndGlyphs">Y1-FAM</text>
<path d="M474.5,64.3 C482.8,64.3 481.2,73.3 489.5,73.3" fill="none" stroke="#C4202B" stroke-width="3.8" stroke-linecap="butt"/>
<line x1="489" y1="73.3" x2="514" y2="73.3" stroke="#9DC3E6" stroke-width="3.6" stroke-linecap="butt"/>
<polygon points="524.30,72.80 521.97,73.81 523.48,75.85 520.96,75.56 521.25,78.08 519.21,76.57 518.20,78.90 517.19,76.57 515.15,78.08 515.44,75.56 512.92,75.85 514.43,73.81 512.10,72.80 514.43,71.79 512.92,69.75 515.44,70.04 515.15,67.52 517.19,69.03 518.20,66.70 519.21,69.03 521.25,67.52 520.96,70.04 523.48,69.75 521.97,71.79" fill="#29ABE2"/>
<polygon points="523.8,70.2 526.2,66.5 526.9,67.2 529.0,64.4 529.7,65.2 532.1,62.2 532.1,66.0 530.5,67.2 529.9,66.5 528.1,68.4 527.4,67.7" fill="#29ABE2"/>
<text x="495" y="67.6" font-size="12" fill="#111" text-anchor="start" font-weight="bold">P<tspan dy="2.64" font-size="7.92">11</tspan></text>
<text x="448.8" y="96.3" font-size="10.2" fill="#111" text-anchor="start" font-weight="bold" text-decoration="underline" textLength="33.8" lengthAdjust="spacingAndGlyphs">Y2-ROX</text>
<path d="M477.2,102.0 C485.1,102.0 483.6,110.5 491.5,110.5" fill="none" stroke="#C4202B" stroke-width="3.8" stroke-linecap="butt"/>
<line x1="491" y1="110.5" x2="516.5" y2="110.5" stroke="#F8C49C" stroke-width="3.6" stroke-linecap="butt"/>
<polygon points="526.90,110.20 524.57,111.21 526.08,113.25 523.56,112.96 523.85,115.48 521.81,113.97 520.80,116.30 519.79,113.97 517.75,115.48 518.04,112.96 515.52,113.25 517.03,111.21 514.70,110.20 517.03,109.19 515.52,107.15 518.04,107.44 517.75,104.92 519.79,106.43 520.80,104.10 521.81,106.43 523.85,104.92 523.56,107.44 526.08,107.15 524.57,109.19" fill="#FDB913"/>
<polygon points="526.8,106.6 529.1,103.1 529.7,103.8 531.7,101.1 532.4,101.8 534.7,99.0 534.7,102.6 533.2,103.8 532.6,103.1 530.9,104.9 530.2,104.2" fill="#FDB913"/>
<text x="476.5" y="113.8" font-size="11.5" fill="#111" text-anchor="start" font-weight="bold">a<tspan dy="2.53" font-size="7.59">1</tspan></text>
<text x="497" y="104.8" font-size="12" fill="#111" text-anchor="start" font-weight="bold">P<tspan dy="2.64" font-size="7.92">21</tspan></text>
<text x="450.3" y="140.9" font-size="10.2" fill="#111" text-anchor="start" font-weight="bold" text-decoration="underline" textLength="35.8" lengthAdjust="spacingAndGlyphs">Y3-NMM</text>
<circle cx="493" cy="159.5" r="9.3" fill="#EFA0A0" opacity="0.85"/>
<circle cx="493" cy="159.5" r="6.7" fill="#E0383C"/>
<circle cx="493" cy="159.8" r="3.4" fill="#F7931E"/>
<g stroke="#8a8a7a" stroke-width="0.5" stroke-dasharray="1 1" fill="none"><path d="M481,156 L490,150.5 L507,150.5 L498.5,156 Z"/><path d="M481,170.5 L498.5,170.5 L507,165"/></g>
<path d="M481,168.5 L481,156 C481,143.5 498.3,143.5 498.3,156 L498.3,168.5" fill="none" stroke="#2F55B5" stroke-width="2.3"/>
<path d="M490,150 C490,138.5 507.3,138.5 507.3,150 L507.3,165.5" fill="none" stroke="#2F55B5" stroke-width="2.3"/>
<text x="481" y="157.2" font-size="4.2" fill="#444" text-anchor="middle" font-weight="bold">G</text>
<text x="498.3" y="157.2" font-size="4.2" fill="#444" text-anchor="middle" font-weight="bold">G</text>
<text x="489.5" y="151.8" font-size="4.2" fill="#444" text-anchor="middle" font-weight="bold">G</text>
<text x="506.8" y="152" font-size="4.2" fill="#444" text-anchor="middle" font-weight="bold">G</text>
<text x="481" y="171.8" font-size="4.2" fill="#444" text-anchor="middle" font-weight="bold">G</text>
<text x="497.8" y="171.8" font-size="4.2" fill="#444" text-anchor="middle" font-weight="bold">G</text>
<text x="506.8" y="166.2" font-size="4.2" fill="#444" text-anchor="middle" font-weight="bold">G</text>
<polygon points="511,147.5 516.7,140.3 515.2,140 520,133.7 522.9,133.4 519.8,138.5 521.6,138.8" fill="#2E5FC9"/>
<path d="M453.3,170.2 C466.9,170.2 466.9,163.4 480.5,163.4" fill="none" stroke="#4B4522" stroke-width="3.2" stroke-linecap="butt"/>
<path d="M467.0,177.0 C472.5,177.0 472.5,170.6 478.0,170.6" fill="none" stroke="#C4202B" stroke-width="3.4" stroke-linecap="butt"/>
<line x1="509.5" y1="164" x2="537" y2="164" stroke="#C4202B" stroke-width="3.4" stroke-linecap="butt"/>
<rect x="535.8" y="160.3" width="6.8" height="6.8" fill="#C4202B"/>
<line x1="501.3" y1="172.4" x2="527.5" y2="172.4" stroke="#C4202B" stroke-width="3.4" stroke-linecap="butt"/>
<polygon points="506,170.8 509.2,170.8 514,165.5 510.8,165.5" fill="#111"/>
<polygon points="513.5,170.8 516.7,170.8 521.5,165.5 518.3,165.5" fill="#111"/>
<polygon points="521,170.8 524.2,170.8 529,165.5 525.8,165.5" fill="#111"/>
<text x="520" y="162" font-size="10" fill="#111" text-anchor="start" font-weight="bold">t31*</text>
<text x="475.8" y="180.6" font-size="10" fill="#111" text-anchor="start" font-weight="bold">t32</text>
<text x="511" y="182.8" font-size="10" fill="#111" text-anchor="start" font-weight="bold">t31</text>
<text x="450.5" y="209.4" font-size="10.2" fill="#111" text-anchor="start" font-weight="bold" text-decoration="underline" textLength="32.8" lengthAdjust="spacingAndGlyphs">Y4-HEX</text>
<path d="M474.5,215.6 C482.6,215.6 481.2,223.6 489.3,223.6" fill="none" stroke="#C4202B" stroke-width="3.8" stroke-linecap="butt"/>
<line x1="488.8" y1="223.6" x2="513.5" y2="223.6" stroke="#F2B0B0" stroke-width="3.6" stroke-linecap="butt"/>
<polygon points="524.10,223.30 521.67,224.28 523.28,226.35 520.69,225.99 521.05,228.58 518.98,226.97 518.00,229.40 517.02,226.97 514.95,228.58 515.31,225.99 512.72,226.35 514.33,224.28 511.90,223.30 514.33,222.32 512.72,220.25 515.31,220.61 514.95,218.02 517.02,219.63 518.00,217.20 518.98,219.63 521.05,218.02 520.69,220.61 523.28,220.25 521.67,222.32" fill="#EE1C25"/>
<polygon points="524.2,220.8 526.5,217.3 527.1,218.0 529.1,215.3 529.8,216.1 532.1,213.2 532.1,216.8 530.6,218.0 530.0,217.3 528.3,219.1 527.6,218.4" fill="#EE1C25"/>
<text x="495" y="218.4" font-size="12" fill="#111" text-anchor="start" font-weight="bold">P<tspan dy="2.64" font-size="7.92">41</tspan></text>
<text x="450.5" y="255.3" font-size="10.2" fill="#111" text-anchor="start" font-weight="bold" text-decoration="underline" textLength="29.8" lengthAdjust="spacingAndGlyphs">Y5-Cy5</text>
<path d="M474.5,261.4 C482.6,261.4 481.2,269.4 489.3,269.4" fill="none" stroke="#C4202B" stroke-width="3.8" stroke-linecap="butt"/>
<line x1="488.8" y1="269.4" x2="513.5" y2="269.4" stroke="#C5E0B4" stroke-width="3.6" stroke-linecap="butt"/>
<polygon points="524.10,269.00 521.67,269.98 523.28,272.05 520.69,271.69 521.05,274.28 518.98,272.67 518.00,275.10 517.02,272.67 514.95,274.28 515.31,271.69 512.72,272.05 514.33,269.98 511.90,269.00 514.33,268.02 512.72,265.95 515.31,266.31 514.95,263.72 517.02,265.33 518.00,262.90 518.98,265.33 521.05,263.72 520.69,266.31 523.28,265.95 521.67,268.02" fill="#3FB54A"/>
<polygon points="524.2,266.4 526.5,262.9 527.1,263.5 529.1,260.9 529.8,261.6 532.1,258.8 532.1,262.4 530.6,263.5 530.0,262.9 528.3,264.7 527.6,264.0" fill="#3FB54A"/>
<text x="495" y="264.4" font-size="12" fill="#111" text-anchor="start" font-weight="bold">P<tspan dy="2.64" font-size="7.92">51</tspan></text>
<text x="18.8" y="329.1" font-size="15" fill="#111" text-anchor="start" font-weight="bold">(b)</text>
<rect x="26.8" y="337.1" width="116.2" height="93.5" fill="#fff" stroke="#4a4a4a" stroke-width="0.7"/>
<line x1="25.0" y1="352.5" x2="26.8" y2="352.5" stroke="#4a4a4a" stroke-width="0.8" stroke-linecap="butt"/>
<text x="24.2" y="355.3" font-size="8.9" fill="#000" text-anchor="end" font-weight="bold">100</text>
<line x1="25.0" y1="367.9" x2="26.8" y2="367.9" stroke="#4a4a4a" stroke-width="0.8" stroke-linecap="butt"/>
<text x="24.2" y="370.7" font-size="8.9" fill="#000" text-anchor="end" font-weight="bold">80</text>
<line x1="25.0" y1="383.5" x2="26.8" y2="383.5" stroke="#4a4a4a" stroke-width="0.8" stroke-linecap="butt"/>
<text x="24.2" y="386.3" font-size="8.9" fill="#000" text-anchor="end" font-weight="bold">60</text>
<line x1="25.0" y1="399.3" x2="26.8" y2="399.3" stroke="#4a4a4a" stroke-width="0.8" stroke-linecap="butt"/>
<text x="24.2" y="402.1" font-size="8.9" fill="#000" text-anchor="end" font-weight="bold">40</text>
<line x1="25.0" y1="415.2" x2="26.8" y2="415.2" stroke="#4a4a4a" stroke-width="0.8" stroke-linecap="butt"/>
<text x="24.2" y="418.0" font-size="8.9" fill="#000" text-anchor="end" font-weight="bold">20</text>
<line x1="25.0" y1="430.6" x2="26.8" y2="430.6" stroke="#4a4a4a" stroke-width="0.8" stroke-linecap="butt"/>
<text x="24.2" y="433.40000000000003" font-size="8.9" fill="#000" text-anchor="end" font-weight="bold">0</text>
<line x1="25.8" y1="360.2" x2="26.8" y2="360.2" stroke="#4a4a4a" stroke-width="0.6" stroke-linecap="butt"/>
<line x1="25.8" y1="375.7" x2="26.8" y2="375.7" stroke="#4a4a4a" stroke-width="0.6" stroke-linecap="butt"/>
<line x1="25.8" y1="391.4" x2="26.8" y2="391.4" stroke="#4a4a4a" stroke-width="0.6" stroke-linecap="butt"/>
<line x1="25.8" y1="407.25" x2="26.8" y2="407.25" stroke="#4a4a4a" stroke-width="0.6" stroke-linecap="butt"/>
<line x1="25.8" y1="422.9" x2="26.8" y2="422.9" stroke="#4a4a4a" stroke-width="0.6" stroke-linecap="butt"/>
<line x1="35.2" y1="430.6" x2="35.2" y2="432.40000000000003" stroke="#4a4a4a" stroke-width="0.8" stroke-linecap="butt"/>
<text x="35.2" y="442.20000000000005" font-size="8.9" fill="#000" text-anchor="middle" font-weight="bold">500</text>
<line x1="68.2" y1="430.6" x2="68.2" y2="432.40000000000003" stroke="#4a4a4a" stroke-width="0.8" stroke-linecap="butt"/>
<text x="68.2" y="442.20000000000005" font-size="8.9" fill="#000" text-anchor="middle" font-weight="bold">520</text>
<line x1="101.2" y1="430.6" x2="101.2" y2="432.40000000000003" stroke="#4a4a4a" stroke-width="0.8" stroke-linecap="butt"/>
<text x="101.2" y="442.20000000000005" font-size="8.9" fill="#000" text-anchor="middle" font-weight="bold">540</text>
<line x1="134.6" y1="430.6" x2="134.6" y2="432.40000000000003" stroke="#4a4a4a" stroke-width="0.8" stroke-linecap="butt"/>
<text x="134.6" y="442.20000000000005" font-size="8.9" fill="#000" text-anchor="middle" font-weight="bold">560</text>
<line x1="51.7" y1="430.6" x2="51.7" y2="431.6" stroke="#4a4a4a" stroke-width="0.6" stroke-linecap="butt"/>
<line x1="84.7" y1="430.6" x2="84.7" y2="431.6" stroke="#4a4a4a" stroke-width="0.6" stroke-linecap="butt"/>
<line x1="117.9" y1="430.6" x2="117.9" y2="431.6" stroke="#4a4a4a" stroke-width="0.6" stroke-linecap="butt"/>
<path d="M40.03,379.55 C40.69,377.97 42.60,373.31 43.99,370.09 C45.38,366.86 46.92,363.31 48.39,360.19 C49.85,357.07 51.32,353.85 52.79,351.39 C54.25,348.94 55.90,346.85 57.18,345.45 C58.47,344.06 59.38,343.59 60.48,343.04 C61.58,342.49 62.50,342.12 63.78,342.16 C65.07,342.19 66.72,342.45 68.18,343.26 C69.65,344.06 71.11,345.45 72.58,346.99 C74.05,348.53 75.51,350.66 76.98,352.49 C78.45,354.33 79.91,355.98 81.38,357.99 C82.84,360.01 84.31,362.39 85.78,364.59 C87.24,366.79 88.34,368.62 90.18,371.19 C92.01,373.75 94.57,377.31 96.77,379.99 C98.97,382.66 101.17,384.97 103.37,387.24 C105.57,389.52 107.77,391.72 109.97,393.62 C112.17,395.53 114.37,397.21 116.57,398.68 C118.77,400.15 120.97,401.28 123.17,402.42 C125.37,403.56 127.86,404.66 129.77,405.50 C131.67,406.34 133.80,407.15 134.60,407.48" fill="none" stroke="#EE1C25" stroke-width="1.1" stroke-linejoin="round" stroke-linecap="round"/>
<path d="M40.03,420.01 C41.06,419.50 44.06,417.89 46.19,416.94 C48.31,415.98 50.59,414.99 52.79,414.30 C54.99,413.60 57.55,413.05 59.38,412.76 C61.22,412.46 61.95,412.50 63.78,412.54 C65.62,412.57 67.82,412.54 70.38,412.98 C72.95,413.42 76.25,414.30 79.18,415.18 C82.11,416.06 84.68,417.27 87.98,418.26 C91.28,419.24 95.31,420.27 98.97,421.11 C102.64,421.96 105.94,422.69 109.97,423.31 C114.00,423.94 119.06,424.45 123.17,424.85 C127.27,425.26 132.70,425.59 134.60,425.73" fill="none" stroke="#111" stroke-width="1.1" stroke-linejoin="round" stroke-linecap="round"/>
<text x="91.2" y="365.6" font-size="12" fill="#EE1C25" text-anchor="start" font-weight="bold">b</text>
<text x="78.6" y="408.6" font-size="12" fill="#111" text-anchor="start" font-weight="bold">a</text>
<text transform="translate(10.3 419.5) rotate(-90)" font-size="10.6" fill="#000">Intensity (a.u.)</text>
<rect x="159.8" y="337.1" width="114.80000000000001" height="93.89999999999998" fill="#fff" stroke="#4a4a4a" stroke-width="0.7"/>
<line x1="158.0" y1="345.5" x2="159.8" y2="345.5" stroke="#4a4a4a" stroke-width="0.8" stroke-linecap="butt"/>
<text x="157.20000000000002" y="348.3" font-size="8.9" fill="#000" text-anchor="end" font-weight="bold">250</text>
<line x1="158.0" y1="362.4" x2="159.8" y2="362.4" stroke="#4a4a4a" stroke-width="0.8" stroke-linecap="butt"/>
<text x="157.20000000000002" y="365.2" font-size="8.9" fill="#000" text-anchor="end" font-weight="bold">200</text>
<line x1="158.0" y1="379.5" x2="159.8" y2="379.5" stroke="#4a4a4a" stroke-width="0.8" stroke-linecap="butt"/>
<text x="157.20000000000002" y="382.3" font-size="8.9" fill="#000" text-anchor="end" font-weight="bold">150</text>
<line x1="158.0" y1="396.9" x2="159.8" y2="396.9" stroke="#4a4a4a" stroke-width="0.8" stroke-linecap="butt"/>
<text x="157.20000000000002" y="399.7" font-size="8.9" fill="#000" text-anchor="end" font-weight="bold">100</text>
<line x1="158.0" y1="414.1" x2="159.8" y2="414.1" stroke="#4a4a4a" stroke-width="0.8" stroke-linecap="butt"/>
<text x="157.20000000000002" y="416.90000000000003" font-size="8.9" fill="#000" text-anchor="end" font-weight="bold">50</text>
<line x1="158.0" y1="431" x2="159.8" y2="431" stroke="#4a4a4a" stroke-width="0.8" stroke-linecap="butt"/>
<text x="157.20000000000002" y="433.8" font-size="8.9" fill="#000" text-anchor="end" font-weight="bold">0</text>
<line x1="158.8" y1="353.95" x2="159.8" y2="353.95" stroke="#4a4a4a" stroke-width="0.6" stroke-linecap="butt"/>
<line x1="158.8" y1="370.95" x2="159.8" y2="370.95" stroke="#4a4a4a" stroke-width="0.6" stroke-linecap="butt"/>
<line x1="158.8" y1="388.2" x2="159.8" y2="388.2" stroke="#4a4a4a" stroke-width="0.6" stroke-linecap="butt"/>
<line x1="158.8" y1="405.5" x2="159.8" y2="405.5" stroke="#4a4a4a" stroke-width="0.6" stroke-linecap="butt"/>
<line x1="158.8" y1="422.55" x2="159.8" y2="422.55" stroke="#4a4a4a" stroke-width="0.6" stroke-linecap="butt"/>
<line x1="180.7" y1="431" x2="180.7" y2="432.8" stroke="#4a4a4a" stroke-width="0.8" stroke-linecap="butt"/>
<text x="180.7" y="442.6" font-size="8.9" fill="#000" text-anchor="middle" font-weight="bold">600</text>
<line x1="222.7" y1="431" x2="222.7" y2="432.8" stroke="#4a4a4a" stroke-width="0.8" stroke-linecap="butt"/>
<text x="222.7" y="442.6" font-size="8.9" fill="#000" text-anchor="middle" font-weight="bold">620</text>
<line x1="264.7" y1="431" x2="264.7" y2="432.8" stroke="#4a4a4a" stroke-width="0.8" stroke-linecap="butt"/>
<text x="264.7" y="442.6" font-size="8.9" fill="#000" text-anchor="middle" font-weight="bold">640</text>
<line x1="201.7" y1="431" x2="201.7" y2="432" stroke="#4a4a4a" stroke-width="0.6" stroke-linecap="butt"/>
<line x1="243.7" y1="431" x2="243.7" y2="432" stroke="#4a4a4a" stroke-width="0.6" stroke-linecap="butt"/>
<path d="M167.93,371.63 C168.59,370.64 170.50,367.78 171.89,365.69 C173.28,363.60 174.82,361.11 176.29,359.09 C177.76,357.07 179.22,355.06 180.69,353.59 C182.16,352.13 183.73,351.03 185.09,350.29 C186.44,349.56 187.36,349.27 188.83,349.19 C190.29,349.12 192.13,349.23 193.89,349.85 C195.65,350.48 197.55,351.65 199.38,352.93 C201.22,354.22 202.87,355.68 204.88,357.55 C206.90,359.42 209.10,361.77 211.48,364.15 C213.86,366.53 216.43,369.02 219.18,371.85 C221.93,374.67 225.04,377.97 227.98,381.09 C230.91,384.20 233.84,387.61 236.77,390.54 C239.71,393.48 242.64,396.33 245.57,398.68 C248.50,401.03 251.99,403.04 254.37,404.62 C256.75,406.20 258.15,407.11 259.87,408.14 C261.59,409.16 263.90,410.34 264.71,410.78" fill="none" stroke="#EE1C25" stroke-width="1.1" stroke-linejoin="round" stroke-linecap="round"/>
<path d="M167.93,425.73 C169.51,425.55 173.80,424.96 177.39,424.63 C180.98,424.30 185.45,423.79 189.49,423.75 C193.52,423.72 197.37,424.08 201.58,424.41 C205.80,424.74 210.38,425.29 214.78,425.73 C219.18,426.17 223.58,426.65 227.98,427.05 C232.38,427.46 236.77,427.82 241.17,428.15 C245.57,428.48 250.45,428.78 254.37,429.03 C258.29,429.29 262.98,429.58 264.71,429.69" fill="none" stroke="#111" stroke-width="1.1" stroke-linejoin="round" stroke-linecap="round"/>
<text x="210.6" y="358" font-size="12" fill="#EE1C25" text-anchor="start" font-weight="bold">d</text>
<text x="211.3" y="419.6" font-size="12" fill="#111" text-anchor="start" font-weight="bold">c</text>
<rect x="293.7" y="336.4" width="115.0" height="94.60000000000002" fill="#fff" stroke="#4a4a4a" stroke-width="0.7"/>
<line x1="291.9" y1="353.6" x2="293.7" y2="353.6" stroke="#4a4a4a" stroke-width="0.8" stroke-linecap="butt"/>
<text x="291.09999999999997" y="356.40000000000003" font-size="8.9" fill="#000" text-anchor="end" font-weight="bold">200</text>
<line x1="291.9" y1="370.7" x2="293.7" y2="370.7" stroke="#4a4a4a" stroke-width="0.8" stroke-linecap="butt"/>
<text x="291.09999999999997" y="373.5" font-size="8.9" fill="#000" text-anchor="end" font-weight="bold">150</text>
<line x1="291.9" y1="388.1" x2="293.7" y2="388.1" stroke="#4a4a4a" stroke-width="0.8" stroke-linecap="butt"/>
<text x="291.09999999999997" y="390.90000000000003" font-size="8.9" fill="#000" text-anchor="end" font-weight="bold">100</text>
<line x1="291.9" y1="405.3" x2="293.7" y2="405.3" stroke="#4a4a4a" stroke-width="0.8" stroke-linecap="butt"/>
<text x="291.09999999999997" y="408.1" font-size="8.9" fill="#000" text-anchor="end" font-weight="bold">50</text>
<line x1="291.9" y1="422.2" x2="293.7" y2="422.2" stroke="#4a4a4a" stroke-width="0.8" stroke-linecap="butt"/>
<text x="291.09999999999997" y="425.0" font-size="8.9" fill="#000" text-anchor="end" font-weight="bold">0</text>
<line x1="292.7" y1="362.15" x2="293.7" y2="362.15" stroke="#4a4a4a" stroke-width="0.6" stroke-linecap="butt"/>
<line x1="292.7" y1="379.4" x2="293.7" y2="379.4" stroke="#4a4a4a" stroke-width="0.6" stroke-linecap="butt"/>
<line x1="292.7" y1="396.70000000000005" x2="293.7" y2="396.70000000000005" stroke="#4a4a4a" stroke-width="0.6" stroke-linecap="butt"/>
<line x1="292.7" y1="413.75" x2="293.7" y2="413.75" stroke="#4a4a4a" stroke-width="0.6" stroke-linecap="butt"/>
<line x1="301.8" y1="431" x2="301.8" y2="432.8" stroke="#4a4a4a" stroke-width="0.8" stroke-linecap="butt"/>
<text x="301.8" y="442.6" font-size="8.9" fill="#000" text-anchor="middle" font-weight="bold">570</text>
<line x1="324.9" y1="431" x2="324.9" y2="432.8" stroke="#4a4a4a" stroke-width="0.8" stroke-linecap="butt"/>
<text x="324.9" y="442.6" font-size="8.9" fill="#000" text-anchor="middle" font-weight="bold">600</text>
<line x1="347.6" y1="431" x2="347.6" y2="432.8" stroke="#4a4a4a" stroke-width="0.8" stroke-linecap="butt"/>
<text x="347.6" y="442.6" font-size="8.9" fill="#000" text-anchor="middle" font-weight="bold">630</text>
<line x1="370.7" y1="431" x2="370.7" y2="432.8" stroke="#4a4a4a" stroke-width="0.8" stroke-linecap="butt"/>
<text x="370.7" y="442.6" font-size="8.9" fill="#000" text-anchor="middle" font-weight="bold">660</text>
<line x1="393.8" y1="431" x2="393.8" y2="432.8" stroke="#4a4a4a" stroke-width="0.8" stroke-linecap="butt"/>
<text x="393.8" y="442.6" font-size="8.9" fill="#000" text-anchor="middle" font-weight="bold">690</text>
<line x1="313.35" y1="431" x2="313.35" y2="432" stroke="#4a4a4a" stroke-width="0.6" stroke-linecap="butt"/>
<line x1="336.25" y1="431" x2="336.25" y2="432" stroke="#4a4a4a" stroke-width="0.6" stroke-linecap="butt"/>
<line x1="359.15" y1="431" x2="359.15" y2="432" stroke="#4a4a4a" stroke-width="0.6" stroke-linecap="butt"/>
<line x1="382.25" y1="431" x2="382.25" y2="432" stroke="#4a4a4a" stroke-width="0.6" stroke-linecap="butt"/>
<path d="M305.13,419.13 C305.98,418.84 308.43,418.04 310.19,417.38 C311.95,416.72 314.22,416.09 315.69,415.18 C317.16,414.26 318.00,413.71 318.99,411.88 C319.98,410.04 320.71,408.03 321.63,404.18 C322.54,400.33 323.53,394.65 324.49,388.78 C325.44,382.92 326.50,374.85 327.35,368.99 C328.19,363.12 328.89,357.44 329.55,353.59 C330.21,349.74 330.79,347.36 331.30,345.89 C331.82,344.43 332.18,344.72 332.62,344.79 C333.06,344.87 333.36,344.50 333.94,346.33 C334.53,348.17 335.34,351.65 336.14,355.79 C336.95,359.93 337.98,366.79 338.78,371.19 C339.59,375.59 340.18,379.07 340.98,382.18 C341.79,385.30 342.71,388.05 343.62,389.88 C344.54,391.72 345.27,392.34 346.48,393.18 C347.69,394.02 349.41,394.50 350.88,394.94 C352.35,395.38 353.81,395.53 355.28,395.82 C356.74,396.11 358.21,396.77 359.68,396.70 C361.14,396.63 362.61,395.97 364.08,395.38 C365.54,394.79 367.01,393.84 368.48,393.18 C369.94,392.52 371.52,391.94 372.87,391.42 C374.23,390.91 375.51,390.07 376.61,390.10 C377.71,390.14 378.45,390.58 379.47,391.64 C380.50,392.71 381.67,394.39 382.77,396.48 C383.87,398.57 384.97,401.98 386.07,404.18 C387.17,406.38 388.09,408.03 389.37,409.68 C390.65,411.33 392.30,412.98 393.77,414.08 C395.23,415.18 396.81,415.69 398.17,416.28 C399.52,416.86 401.28,417.38 401.91,417.60" fill="none" stroke="#EE1C25" stroke-width="1.1" stroke-linejoin="round" stroke-linecap="round"/>
<path d="M305.13,421.77 C306.34,421.66 310.08,421.48 312.39,421.11 C314.70,420.75 317.16,420.38 318.99,419.57 C320.82,418.77 321.92,417.67 323.39,416.28 C324.85,414.88 326.50,412.57 327.79,411.22 C329.07,409.86 330.28,408.72 331.09,408.14 C331.89,407.55 331.89,407.51 332.62,407.70 C333.36,407.88 334.46,408.43 335.48,409.24 C336.51,410.04 337.50,411.55 338.78,412.54 C340.07,413.53 341.35,414.55 343.18,415.18 C345.01,415.80 347.21,415.98 349.78,416.28 C352.35,416.57 355.65,416.94 358.58,416.94 C361.51,416.94 364.81,416.50 367.38,416.28 C369.94,416.06 372.14,415.73 373.97,415.62 C375.81,415.51 376.91,415.40 378.37,415.62 C379.84,415.84 380.94,416.28 382.77,416.94 C384.60,417.60 387.17,418.95 389.37,419.57 C391.57,420.20 393.88,420.38 395.97,420.67 C398.06,420.97 400.92,421.22 401.91,421.33" fill="none" stroke="#111" stroke-width="1.1" stroke-linejoin="round" stroke-linecap="round"/>
<text x="339.8" y="357.5" font-size="12" fill="#EE1C25" text-anchor="start" font-weight="bold">f</text>
<text x="344.2" y="409" font-size="12" fill="#111" text-anchor="start" font-weight="bold">e</text>
<text x="354.7" y="451.2" font-size="10.6" fill="#000" text-anchor="middle" font-weight="bold">Wavelength (nm)</text>
<rect x="427.7" y="336.4" width="115.40000000000003" height="94.80000000000001" fill="#fff" stroke="#4a4a4a" stroke-width="0.7"/>
<line x1="425.9" y1="347.4" x2="427.7" y2="347.4" stroke="#4a4a4a" stroke-width="0.8" stroke-linecap="butt"/>
<text x="425.09999999999997" y="350.2" font-size="8.9" fill="#000" text-anchor="end" font-weight="bold">200</text>
<line x1="425.9" y1="368.3" x2="427.7" y2="368.3" stroke="#4a4a4a" stroke-width="0.8" stroke-linecap="butt"/>
<text x="425.09999999999997" y="371.1" font-size="8.9" fill="#000" text-anchor="end" font-weight="bold">150</text>
<line x1="425.9" y1="389.4" x2="427.7" y2="389.4" stroke="#4a4a4a" stroke-width="0.8" stroke-linecap="butt"/>
<text x="425.09999999999997" y="392.2" font-size="8.9" fill="#000" text-anchor="end" font-weight="bold">100</text>
<line x1="425.9" y1="410.3" x2="427.7" y2="410.3" stroke="#4a4a4a" stroke-width="0.8" stroke-linecap="butt"/>
<text x="425.09999999999997" y="413.1" font-size="8.9" fill="#000" text-anchor="end" font-weight="bold">50</text>
<line x1="425.9" y1="431.2" x2="427.7" y2="431.2" stroke="#4a4a4a" stroke-width="0.8" stroke-linecap="butt"/>
<text x="425.09999999999997" y="434.0" font-size="8.9" fill="#000" text-anchor="end" font-weight="bold">0</text>
<line x1="426.7" y1="357.85" x2="427.7" y2="357.85" stroke="#4a4a4a" stroke-width="0.6" stroke-linecap="butt"/>
<line x1="426.7" y1="378.85" x2="427.7" y2="378.85" stroke="#4a4a4a" stroke-width="0.6" stroke-linecap="butt"/>
<line x1="426.7" y1="399.85" x2="427.7" y2="399.85" stroke="#4a4a4a" stroke-width="0.6" stroke-linecap="butt"/>
<line x1="426.7" y1="420.75" x2="427.7" y2="420.75" stroke="#4a4a4a" stroke-width="0.6" stroke-linecap="butt"/>
<line x1="452.3" y1="431.2" x2="452.3" y2="433.0" stroke="#4a4a4a" stroke-width="0.8" stroke-linecap="butt"/>
<text x="452.3" y="442.8" font-size="8.9" fill="#000" text-anchor="middle" font-weight="bold">550</text>
<line x1="485.3" y1="431.2" x2="485.3" y2="433.0" stroke="#4a4a4a" stroke-width="0.8" stroke-linecap="butt"/>
<text x="485.3" y="442.8" font-size="8.9" fill="#000" text-anchor="middle" font-weight="bold">560</text>
<line x1="518.3" y1="431.2" x2="518.3" y2="433.0" stroke="#4a4a4a" stroke-width="0.8" stroke-linecap="butt"/>
<text x="518.3" y="442.8" font-size="8.9" fill="#000" text-anchor="middle" font-weight="bold">570</text>
<line x1="468.8" y1="431.2" x2="468.8" y2="432.2" stroke="#4a4a4a" stroke-width="0.6" stroke-linecap="butt"/>
<line x1="501.79999999999995" y1="431.2" x2="501.79999999999995" y2="432.2" stroke="#4a4a4a" stroke-width="0.6" stroke-linecap="butt"/>
<path d="M435.79,363.49 C436.34,363.05 437.81,362.02 439.09,360.85 C440.37,359.68 441.84,358.10 443.49,356.45 C445.14,354.80 447.16,352.60 448.99,350.95 C450.82,349.30 452.65,347.76 454.49,346.55 C456.32,345.34 458.15,344.39 459.99,343.70 C461.82,343.00 463.83,342.56 465.48,342.38 C467.13,342.19 468.23,342.30 469.88,342.60 C471.53,342.89 473.37,343.40 475.38,344.13 C477.40,344.87 479.78,345.86 481.98,346.99 C484.18,348.13 486.38,349.49 488.58,350.95 C490.78,352.42 492.79,353.96 495.18,355.79 C497.56,357.62 501.22,360.48 502.87,361.95 C504.52,363.42 503.61,363.12 505.07,364.59 C506.54,366.06 509.29,368.55 511.67,370.75 C514.05,372.95 516.80,375.59 519.37,377.79 C521.94,379.99 524.43,382.11 527.07,383.94 C529.71,385.78 533.85,387.98 535.21,388.78" fill="none" stroke="#EE1C25" stroke-width="1.1" stroke-linejoin="round" stroke-linecap="round"/>
<path d="M435.79,423.09 C437.26,423.13 441.66,423.50 444.59,423.31 C447.52,423.13 450.45,422.32 453.39,421.99 C456.32,421.66 459.62,421.48 462.18,421.33 C464.75,421.19 466.22,421.00 468.78,421.11 C471.35,421.22 474.28,421.66 477.58,421.99 C480.88,422.32 484.91,422.76 488.58,423.09 C492.24,423.42 495.91,423.64 499.57,423.97 C503.24,424.30 506.54,424.74 510.57,425.07 C514.60,425.40 519.66,425.66 523.77,425.95 C527.87,426.25 533.30,426.69 535.21,426.83" fill="none" stroke="#111" stroke-width="1.1" stroke-linejoin="round" stroke-linecap="round"/>
<text x="507.2" y="355.8" font-size="12" fill="#EE1C25" text-anchor="start" font-weight="bold">h</text>
<text x="490.7" y="413.5" font-size="12" fill="#111" text-anchor="start" font-weight="bold">g</text>
<rect x="562.2" y="336.4" width="116.5" height="94.80000000000001" fill="#fff" stroke="#4a4a4a" stroke-width="0.7"/>
<line x1="560.4000000000001" y1="341.5" x2="562.2" y2="341.5" stroke="#4a4a4a" stroke-width="0.8" stroke-linecap="butt"/>
<text x="559.6" y="344.3" font-size="8.9" fill="#000" text-anchor="end" font-weight="bold">150</text>
<line x1="560.4000000000001" y1="359.5" x2="562.2" y2="359.5" stroke="#4a4a4a" stroke-width="0.8" stroke-linecap="butt"/>
<text x="559.6" y="362.3" font-size="8.9" fill="#000" text-anchor="end" font-weight="bold">120</text>
<line x1="560.4000000000001" y1="377.3" x2="562.2" y2="377.3" stroke="#4a4a4a" stroke-width="0.8" stroke-linecap="butt"/>
<text x="559.6" y="380.1" font-size="8.9" fill="#000" text-anchor="end" font-weight="bold">90</text>
<line x1="560.4000000000001" y1="395.4" x2="562.2" y2="395.4" stroke="#4a4a4a" stroke-width="0.8" stroke-linecap="butt"/>
<text x="559.6" y="398.2" font-size="8.9" fill="#000" text-anchor="end" font-weight="bold">60</text>
<line x1="560.4000000000001" y1="413.2" x2="562.2" y2="413.2" stroke="#4a4a4a" stroke-width="0.8" stroke-linecap="butt"/>
<text x="559.6" y="416.0" font-size="8.9" fill="#000" text-anchor="end" font-weight="bold">30</text>
<line x1="560.4000000000001" y1="431.2" x2="562.2" y2="431.2" stroke="#4a4a4a" stroke-width="0.8" stroke-linecap="butt"/>
<text x="559.6" y="434.0" font-size="8.9" fill="#000" text-anchor="end" font-weight="bold">0</text>
<line x1="561.2" y1="350.5" x2="562.2" y2="350.5" stroke="#4a4a4a" stroke-width="0.6" stroke-linecap="butt"/>
<line x1="561.2" y1="368.4" x2="562.2" y2="368.4" stroke="#4a4a4a" stroke-width="0.6" stroke-linecap="butt"/>
<line x1="561.2" y1="386.35" x2="562.2" y2="386.35" stroke="#4a4a4a" stroke-width="0.6" stroke-linecap="butt"/>
<line x1="561.2" y1="404.29999999999995" x2="562.2" y2="404.29999999999995" stroke="#4a4a4a" stroke-width="0.6" stroke-linecap="butt"/>
<line x1="561.2" y1="422.2" x2="562.2" y2="422.2" stroke="#4a4a4a" stroke-width="0.6" stroke-linecap="butt"/>
<line x1="572.5" y1="431.2" x2="572.5" y2="433.0" stroke="#4a4a4a" stroke-width="0.8" stroke-linecap="butt"/>
<text x="572.5" y="442.8" font-size="8.9" fill="#000" text-anchor="middle" font-weight="bold">650</text>
<line x1="591.8" y1="431.2" x2="591.8" y2="433.0" stroke="#4a4a4a" stroke-width="0.8" stroke-linecap="butt"/>
<text x="591.8" y="442.8" font-size="8.9" fill="#000" text-anchor="middle" font-weight="bold">660</text>
<line x1="611" y1="431.2" x2="611" y2="433.0" stroke="#4a4a4a" stroke-width="0.8" stroke-linecap="butt"/>
<text x="611" y="442.8" font-size="8.9" fill="#000" text-anchor="middle" font-weight="bold">670</text>
<line x1="630.3" y1="431.2" x2="630.3" y2="433.0" stroke="#4a4a4a" stroke-width="0.8" stroke-linecap="butt"/>
<text x="630.3" y="442.8" font-size="8.9" fill="#000" text-anchor="middle" font-weight="bold">680</text>
<line x1="649.7" y1="431.2" x2="649.7" y2="433.0" stroke="#4a4a4a" stroke-width="0.8" stroke-linecap="butt"/>
<text x="649.7" y="442.8" font-size="8.9" fill="#000" text-anchor="middle" font-weight="bold">690</text>
<line x1="668.8" y1="431.2" x2="668.8" y2="433.0" stroke="#4a4a4a" stroke-width="0.8" stroke-linecap="butt"/>
<text x="668.8" y="442.8" font-size="8.9" fill="#000" text-anchor="middle" font-weight="bold">700</text>
<line x1="582.15" y1="431.2" x2="582.15" y2="432.2" stroke="#4a4a4a" stroke-width="0.6" stroke-linecap="butt"/>
<line x1="601.4" y1="431.2" x2="601.4" y2="432.2" stroke="#4a4a4a" stroke-width="0.6" stroke-linecap="butt"/>
<line x1="620.65" y1="431.2" x2="620.65" y2="432.2" stroke="#4a4a4a" stroke-width="0.6" stroke-linecap="butt"/>
<line x1="640.0" y1="431.2" x2="640.0" y2="432.2" stroke="#4a4a4a" stroke-width="0.6" stroke-linecap="butt"/>
<line x1="659.25" y1="431.2" x2="659.25" y2="432.2" stroke="#4a4a4a" stroke-width="0.6" stroke-linecap="butt"/>
<path d="M574.03,367.45 C574.69,366.97 576.78,366.17 577.99,364.59 C579.20,363.01 580.01,360.19 581.29,357.99 C582.57,355.79 584.22,353.15 585.69,351.39 C587.16,349.63 588.80,348.61 590.09,347.43 C591.37,346.26 591.81,345.16 593.39,344.35 C594.96,343.55 597.71,342.60 599.55,342.60 C601.38,342.60 602.66,343.55 604.38,344.35 C606.11,345.16 608.05,345.89 609.88,347.43 C611.72,348.97 613.37,350.92 615.38,353.59 C617.40,356.27 619.60,359.82 621.98,363.49 C624.36,367.16 627.11,371.63 629.68,375.59 C632.24,379.55 634.99,384.13 637.38,387.24 C639.76,390.36 641.77,391.94 643.97,394.28 C646.17,396.63 648.01,399.30 650.57,401.32 C653.14,403.34 656.99,404.99 659.37,406.38 C661.75,407.77 663.22,408.80 664.87,409.68 C666.52,410.56 668.53,411.33 669.27,411.66" fill="none" stroke="#EE1C25" stroke-width="1.1" stroke-linejoin="round" stroke-linecap="round"/>
<path d="M574.03,420.23 C574.77,420.49 576.67,421.74 578.43,421.77 C580.19,421.81 582.28,420.86 584.59,420.45 C586.90,420.05 589.72,419.61 592.29,419.35 C594.85,419.10 597.24,418.88 599.99,418.91 C602.73,418.95 605.48,419.10 608.78,419.57 C612.08,420.05 616.11,420.97 619.78,421.77 C623.45,422.58 627.11,423.68 630.78,424.41 C634.44,425.15 637.74,425.66 641.77,426.17 C645.81,426.69 650.39,427.13 654.97,427.49 C659.55,427.86 666.88,428.23 669.27,428.37" fill="none" stroke="#111" stroke-width="1.1" stroke-linejoin="round" stroke-linecap="round"/>
<text x="619" y="355.3" font-size="12" fill="#EE1C25" text-anchor="start" font-weight="bold">j</text>
<text x="619" y="415.6" font-size="12" fill="#111" text-anchor="start" font-weight="bold">i</text>
<text x="17.6" y="463.9" font-size="15.8" fill="#111" text-anchor="start" font-weight="bold">(c)</text>
<rect x="11.8" y="468.3" width="123.39999999999999" height="11.099999999999966" fill="#4A7AC2"/>
<text x="76.5" y="478.1" font-size="11.6" fill="#fff" text-anchor="middle" font-weight="bold">P-1</text>
<rect x="12.1" y="480.9" width="27.200000000000003" height="14.100000000000023" fill="#4A7AC2"/>
<text x="25.7" y="491" font-size="8" fill="#fff" text-anchor="middle" font-weight="bold">1</text>
<rect x="40.7" y="480.9" width="21.0" height="14.100000000000023" fill="#4A7AC2"/>
<text x="51.2" y="491" font-size="8" fill="#fff" text-anchor="middle" font-weight="bold">2</text>
<rect x="63.1" y="480.9" width="21.200000000000003" height="14.100000000000023" fill="#4A7AC2"/>
<text x="73.7" y="491" font-size="8" fill="#fff" text-anchor="middle" font-weight="bold">3</text>
<rect x="85.7" y="480.9" width="21.000000000000007" height="14.100000000000023" fill="#4A7AC2"/>
<text x="96.2" y="491" font-size="8" fill="#fff" text-anchor="middle" font-weight="bold">4</text>
<rect x="108.10000000000001" y="480.9" width="26.79999999999999" height="14.100000000000023" fill="#4A7AC2"/>
<text x="121.5" y="491" font-size="8" fill="#fff" text-anchor="middle" font-weight="bold">5</text>
<rect x="136.0" y="468.3" width="149.9" height="11.099999999999966" fill="#F9BE8F"/>
<text x="213.95" y="478.1" font-size="11.6" fill="#fff" text-anchor="middle" font-weight="bold">P-2</text>
<rect x="136.29999999999998" y="480.9" width="26.30000000000002" height="14.100000000000023" fill="#F9BE8F"/>
<text x="150.64999999999998" y="491" font-size="8" fill="#fff" text-anchor="middle" font-weight="bold">6</text>
<rect x="164.0" y="480.9" width="20.199999999999996" height="14.100000000000023" fill="#F9BE8F"/>
<text x="174.10000000000002" y="491" font-size="8" fill="#fff" text-anchor="middle" font-weight="bold">7</text>
<rect x="185.6" y="480.9" width="21.000000000000007" height="14.100000000000023" fill="#F9BE8F"/>
<text x="195.10000000000002" y="491" font-size="8" fill="#fff" text-anchor="middle" font-weight="bold">8</text>
<rect x="208.0" y="480.9" width="21.699999999999996" height="14.100000000000023" fill="#F9BE8F"/>
<text x="216.85000000000002" y="491" font-size="8" fill="#fff" text-anchor="middle" font-weight="bold">9</text>
<rect x="231.1" y="480.9" width="25.599999999999973" height="14.100000000000023" fill="#F9BE8F"/>
<text x="242.29999999999998" y="491" font-size="8" fill="#fff" text-anchor="middle" font-weight="bold">10</text>
<rect x="258.09999999999997" y="480.9" width="27.500000000000036" height="14.100000000000023" fill="#F9BE8F"/>
<text x="269.35" y="491" font-size="8" fill="#fff" text-anchor="middle" font-weight="bold">11</text>
<rect x="286.7" y="468.3" width="120.39999999999999" height="11.099999999999966" fill="#C4BD97"/>
<text x="349.9" y="478.1" font-size="11.6" fill="#fff" text-anchor="middle" font-weight="bold">P-3</text>
<rect x="287.0" y="480.9" width="24.699999999999967" height="14.100000000000023" fill="#C4BD97"/>
<text x="300.95000000000005" y="491" font-size="8" fill="#fff" text-anchor="middle" font-weight="bold">12</text>
<rect x="313.09999999999997" y="480.9" width="20.800000000000047" height="14.100000000000023" fill="#C4BD97"/>
<text x="323.5" y="491" font-size="8" fill="#fff" text-anchor="middle" font-weight="bold">13</text>
<rect x="335.3" y="480.9" width="21.49999999999998" height="14.100000000000023" fill="#C4BD97"/>
<text x="346.05" y="491" font-size="8" fill="#fff" text-anchor="middle" font-weight="bold">14</text>
<rect x="358.2" y="480.9" width="20.400000000000013" height="14.100000000000023" fill="#C4BD97"/>
<text x="368.4" y="491" font-size="8" fill="#fff" text-anchor="middle" font-weight="bold">15</text>
<rect x="380.0" y="480.9" width="26.79999999999999" height="14.100000000000023" fill="#C4BD97"/>
<text x="393.4" y="491" font-size="8" fill="#fff" text-anchor="middle" font-weight="bold">16</text>
<rect x="407.9" y="468.3" width="144.90000000000003" height="11.099999999999966" fill="#E28E91"/>
<text x="483.35" y="478.1" font-size="11.6" fill="#fff" text-anchor="middle" font-weight="bold">P-4</text>
<rect x="408.2" y="480.9" width="28.6" height="14.100000000000023" fill="#E28E91"/>
<text x="425.3" y="491" font-size="8" fill="#fff" text-anchor="middle" font-weight="bold">17</text>
<rect x="438.2" y="480.9" width="21.200000000000024" height="14.100000000000023" fill="#E28E91"/>
<text x="449.8" y="491" font-size="8" fill="#fff" text-anchor="middle" font-weight="bold">18</text>
<rect x="460.8" y="480.9" width="20.79999999999999" height="14.100000000000023" fill="#E28E91"/>
<text x="471.20000000000005" y="491" font-size="8" fill="#fff" text-anchor="middle" font-weight="bold">19</text>
<rect x="483.0" y="480.9" width="20.29999999999999" height="14.100000000000023" fill="#E28E91"/>
<text x="493.15" y="491" font-size="8" fill="#fff" text-anchor="middle" font-weight="bold">20</text>
<rect x="504.7" y="480.9" width="21.6" height="14.100000000000023" fill="#E28E91"/>
<text x="515.5" y="491" font-size="8" fill="#fff" text-anchor="middle" font-weight="bold">21</text>
<rect x="527.7" y="480.9" width="24.800000000000047" height="14.100000000000023" fill="#E28E91"/>
<text x="535.5" y="491" font-size="8" fill="#fff" text-anchor="middle" font-weight="bold">22</text>
<rect x="553.6" y="468.3" width="128.49999999999994" height="11.099999999999966" fill="#BFD89A"/>
<text x="620.85" y="478.1" font-size="11.6" fill="#fff" text-anchor="middle" font-weight="bold">P-5</text>
<rect x="553.9000000000001" y="480.9" width="21.799999999999933" height="14.100000000000023" fill="#BFD89A"/>
<text x="568.6999999999999" y="491" font-size="8" fill="#fff" text-anchor="middle" font-weight="bold">23</text>
<rect x="577.1" y="480.9" width="18.1" height="14.100000000000023" fill="#BFD89A"/>
<text x="586.15" y="491" font-size="8" fill="#fff" text-anchor="middle" font-weight="bold">24</text>
<rect x="596.6" y="480.9" width="18.40000000000007" height="14.100000000000023" fill="#BFD89A"/>
<text x="605.8" y="491" font-size="8" fill="#fff" text-anchor="middle" font-weight="bold">25</text>
<rect x="616.4000000000001" y="480.9" width="16.799999999999933" height="14.100000000000023" fill="#BFD89A"/>
<text x="624.8" y="491" font-size="8" fill="#fff" text-anchor="middle" font-weight="bold">26</text>
<rect x="634.6" y="480.9" width="23.6" height="14.100000000000023" fill="#BFD89A"/>
<text x="646.4" y="491" font-size="8" fill="#fff" text-anchor="middle" font-weight="bold">27</text>
<rect x="659.6" y="480.9" width="22.200000000000024" height="14.100000000000023" fill="#BFD89A"/>
<text x="670.7" y="491" font-size="8" fill="#fff" text-anchor="middle" font-weight="bold">28</text>
<rect x="11.4" y="497.6" width="671.1" height="91.39999999999998" fill="#131313"/>
<g filter="url(#b2)">
<rect x="15.976" y="499.6" width="19.448000000000004" height="87.39999999999998" fill="#2a2a2a" opacity="0.16"/>
<rect x="43.584" y="499.6" width="15.232" height="87.39999999999998" fill="#2a2a2a" opacity="0.16"/>
<rect x="66.016" y="499.6" width="15.368000000000002" height="87.39999999999998" fill="#2a2a2a" opacity="0.16"/>
<rect x="88.584" y="499.6" width="15.232000000000005" height="87.39999999999998" fill="#2a2a2a" opacity="0.16"/>
<rect x="111.912" y="499.6" width="19.175999999999995" height="87.39999999999998" fill="#2a2a2a" opacity="0.16"/>
<rect x="140.032" y="499.6" width="18.836000000000013" height="87.39999999999998" fill="#2a2a2a" opacity="0.16"/>
<rect x="166.756" y="499.6" width="14.687999999999997" height="87.39999999999998" fill="#2a2a2a" opacity="0.16"/>
<rect x="188.484" y="499.6" width="15.232000000000005" height="87.39999999999998" fill="#2a2a2a" opacity="0.16"/>
<rect x="210.996" y="499.6" width="15.707999999999997" height="87.39999999999998" fill="#2a2a2a" opacity="0.16"/>
<rect x="234.72" y="499.6" width="18.35999999999998" height="87.39999999999998" fill="#2a2a2a" opacity="0.16"/>
<rect x="262.024" y="499.6" width="19.652000000000026" height="87.39999999999998" fill="#2a2a2a" opacity="0.16"/>
<rect x="290.476" y="499.6" width="17.74799999999998" height="87.39999999999998" fill="#2a2a2a" opacity="0.16"/>
<rect x="315.952" y="499.6" width="15.096000000000032" height="87.39999999999998" fill="#2a2a2a" opacity="0.16"/>
<rect x="338.264" y="499.6" width="15.571999999999985" height="87.39999999999998" fill="#2a2a2a" opacity="0.16"/>
<rect x="360.988" y="499.6" width="14.824000000000009" height="87.39999999999998" fill="#2a2a2a" opacity="0.16"/>
<rect x="383.812" y="499.6" width="19.175999999999995" height="87.39999999999998" fill="#2a2a2a" opacity="0.16"/>
<rect x="412.3" y="499.6" width="20.400000000000002" height="87.39999999999998" fill="#2a2a2a" opacity="0.16"/>
<rect x="441.116" y="499.6" width="15.368000000000016" height="87.39999999999998" fill="#2a2a2a" opacity="0.16"/>
<rect x="463.65200000000004" y="499.6" width="15.095999999999993" height="87.39999999999998" fill="#2a2a2a" opacity="0.16"/>
<rect x="485.772" y="499.6" width="14.755999999999993" height="87.39999999999998" fill="#2a2a2a" opacity="0.16"/>
<rect x="507.68" y="499.6" width="15.64" height="87.39999999999998" fill="#2a2a2a" opacity="0.16"/>
<rect x="531.192" y="499.6" width="17.81600000000003" height="87.39999999999998" fill="#2a2a2a" opacity="0.16"/>
<rect x="556.912" y="499.6" width="15.775999999999955" height="87.39999999999998" fill="#2a2a2a" opacity="0.16"/>
<rect x="579.52" y="499.6" width="13.260000000000002" height="87.39999999999998" fill="#2a2a2a" opacity="0.16"/>
<rect x="599.068" y="499.6" width="13.464000000000047" height="87.39999999999998" fill="#2a2a2a" opacity="0.16"/>
<rect x="618.6120000000001" y="499.6" width="12.375999999999955" height="87.39999999999998" fill="#2a2a2a" opacity="0.16"/>
<rect x="637.9" y="499.6" width="17.0" height="87.39999999999998" fill="#2a2a2a" opacity="0.16"/>
<rect x="662.6759999999999" y="499.6" width="16.048000000000016" height="87.39999999999998" fill="#2a2a2a" opacity="0.16"/>
</g>
<g clip-path="url(#gelclip)">
<clipPath id="gelclip"><rect x="11.4" y="497.6" width="671.1" height="91.39999999999998"/></clipPath>
<rect x="15.690000000000001" y="572" width="20.02" height="12" rx="3" fill="#fff" opacity="0.16" filter="url(#b3)"/>
<rect x="43.36" y="572" width="15.68" height="12" rx="3" fill="#fff" opacity="0.16" filter="url(#b3)"/>
<rect x="65.78999999999999" y="572" width="15.820000000000007" height="12" rx="3" fill="#fff" opacity="0.16" filter="url(#b3)"/>
<rect x="88.36" y="572" width="15.680000000000007" height="12" rx="3" fill="#fff" opacity="0.16" filter="url(#b3)"/>
<rect x="111.63000000000001" y="572" width="19.739999999999995" height="12" rx="3" fill="#fff" opacity="0.16" filter="url(#b3)"/>
<rect x="139.755" y="572" width="19.390000000000015" height="12" rx="3" fill="#fff" opacity="0.16" filter="url(#b3)"/>
<rect x="166.54000000000002" y="572" width="15.119999999999976" height="12" rx="3" fill="#fff" opacity="0.16" filter="url(#b3)"/>
<rect x="188.26000000000002" y="572" width="15.679999999999978" height="12" rx="3" fill="#fff" opacity="0.16" filter="url(#b3)"/>
<rect x="210.76500000000001" y="572" width="16.169999999999987" height="12" rx="3" fill="#fff" opacity="0.16" filter="url(#b3)"/>
<rect x="234.45" y="572" width="18.900000000000006" height="12" rx="3" fill="#fff" opacity="0.16" filter="url(#b3)"/>
<rect x="261.73499999999996" y="572" width="20.230000000000075" height="12" rx="3" fill="#fff" opacity="0.16" filter="url(#b3)"/>
<rect x="290.21500000000003" y="572" width="18.269999999999925" height="12" rx="3" fill="#fff" opacity="0.16" filter="url(#b3)"/>
<rect x="315.72999999999996" y="572" width="15.540000000000077" height="12" rx="3" fill="#fff" opacity="0.16" filter="url(#b3)"/>
<rect x="338.035" y="572" width="16.029999999999973" height="12" rx="3" fill="#fff" opacity="0.16" filter="url(#b3)"/>
<rect x="360.77" y="572" width="15.260000000000048" height="12" rx="3" fill="#fff" opacity="0.16" filter="url(#b3)"/>
<rect x="383.53000000000003" y="572" width="19.739999999999952" height="12" rx="3" fill="#fff" opacity="0.16" filter="url(#b3)"/>
<rect x="412.0" y="572" width="21.0" height="12" rx="3" fill="#fff" opacity="0.16" filter="url(#b3)"/>
<rect x="440.89" y="572" width="15.82000000000005" height="12" rx="3" fill="#fff" opacity="0.16" filter="url(#b3)"/>
<rect x="463.43" y="572" width="15.54000000000002" height="12" rx="3" fill="#fff" opacity="0.16" filter="url(#b3)"/>
<rect x="485.555" y="572" width="15.189999999999998" height="12" rx="3" fill="#fff" opacity="0.16" filter="url(#b3)"/>
<rect x="507.45" y="572" width="16.099999999999966" height="12" rx="3" fill="#fff" opacity="0.16" filter="url(#b3)"/>
<rect x="530.9300000000001" y="572" width="18.339999999999918" height="12" rx="3" fill="#fff" opacity="0.16" filter="url(#b3)"/>
<rect x="556.6800000000001" y="572" width="16.239999999999895" height="12" rx="3" fill="#fff" opacity="0.16" filter="url(#b3)"/>
<rect x="579.3249999999999" y="572" width="13.650000000000091" height="12" rx="3" fill="#fff" opacity="0.16" filter="url(#b3)"/>
<rect x="598.87" y="572" width="13.860000000000014" height="12" rx="3" fill="#fff" opacity="0.16" filter="url(#b3)"/>
<rect x="618.4300000000001" y="572" width="12.739999999999895" height="12" rx="3" fill="#fff" opacity="0.16" filter="url(#b3)"/>
<rect x="637.65" y="572" width="17.5" height="12" rx="3" fill="#fff" opacity="0.16" filter="url(#b3)"/>
<rect x="662.4399999999999" y="572" width="16.520000000000095" height="12" rx="3" fill="#fff" opacity="0.16" filter="url(#b3)"/>
<rect x="17.8" y="506.0" width="17.2" height="46.0" fill="url(#gl)" opacity="0.50" filter="url(#b1)"/>
<rect x="17.0" y="526.6" width="3" height="25.4" fill="url(#gw)" opacity="1.00" filter="url(#b1)"/>
<rect x="32.8" y="526.6" width="3" height="25.4" fill="url(#gw)" opacity="1.00" filter="url(#b1)"/>
<rect x="16.8" y="547.1" width="19.2" height="6.9" rx="3" fill="#fff" opacity="0.40" filter="url(#b2)"/>
<path d="M17.4,546.6 Q26.4,551.0 35.4,546.6 L35.4,551.0 Q35.2,553.0 33.0,553.0 L19.8,553.0 Q17.6,553.0 17.4,551.0 Z" fill="#fff" opacity="1.0" filter="url(#b0)"/>
<rect x="87.5" y="514.0" width="18.7" height="27.3" fill="url(#gl)" opacity="0.54" filter="url(#b1)"/>
<rect x="86.7" y="518.5" width="3" height="22.8" fill="url(#gw)" opacity="1.00" filter="url(#b1)"/>
<rect x="104.0" y="518.5" width="3" height="22.8" fill="url(#gw)" opacity="1.00" filter="url(#b1)"/>
<rect x="86.5" y="535.1" width="20.7" height="8.2" rx="3" fill="#fff" opacity="0.40" filter="url(#b2)"/>
<path d="M87.1,534.6 Q96.8,539.0 106.6,534.6 L106.6,540.3 Q106.4,542.3 104.2,542.3 L89.5,542.3 Q87.3,542.3 87.1,540.3 Z" fill="#fff" opacity="1.0" filter="url(#b0)"/>
<rect x="111.4" y="498.0" width="18.6" height="31.2" fill="url(#gl)" opacity="0.41" filter="url(#b1)"/>
<rect x="110.6" y="503.5" width="3" height="25.7" fill="url(#gw)" opacity="0.95" filter="url(#b1)"/>
<rect x="127.8" y="503.5" width="3" height="25.7" fill="url(#gw)" opacity="0.95" filter="url(#b1)"/>
<rect x="110.4" y="523.9" width="20.6" height="7.3" rx="3" fill="#fff" opacity="0.38" filter="url(#b2)"/>
<path d="M111.0,523.4 Q120.7,527.8 130.4,523.4 L130.4,528.2 Q130.2,530.2 128.0,530.2 L113.4,530.2 Q111.2,530.2 111.0,528.2 Z" fill="#fff" opacity="0.95" filter="url(#b0)"/>
<rect x="139.9" y="506.0" width="17.4" height="45.8" fill="url(#gl)" opacity="0.50" filter="url(#b1)"/>
<rect x="139.1" y="525.6" width="3" height="26.2" fill="url(#gw)" opacity="1.00" filter="url(#b1)"/>
<rect x="155.1" y="525.6" width="3" height="26.2" fill="url(#gw)" opacity="1.00" filter="url(#b1)"/>
<rect x="138.9" y="546.1" width="19.4" height="7.7" rx="3" fill="#fff" opacity="0.40" filter="url(#b2)"/>
<path d="M139.5,545.6 Q148.6,550.0 157.7,545.6 L157.7,550.8 Q157.5,552.8 155.3,552.8 L141.9,552.8 Q139.7,552.8 139.5,550.8 Z" fill="#fff" opacity="1.0" filter="url(#b0)"/>
<rect x="209.6" y="498.0" width="18.2" height="47.2" fill="url(#gl)" opacity="0.36" filter="url(#b1)"/>
<rect x="208.8" y="520.1" width="3" height="25.1" fill="url(#gw)" opacity="0.95" filter="url(#b1)"/>
<rect x="225.6" y="520.1" width="3" height="25.1" fill="url(#gw)" opacity="0.95" filter="url(#b1)"/>
<rect x="208.6" y="540.6" width="20.2" height="6.6" rx="3" fill="#fff" opacity="0.38" filter="url(#b2)"/>
<path d="M209.2,540.1 Q218.7,544.5 228.2,540.1 L228.2,544.2 Q228.0,546.2 225.8,546.2 L211.6,546.2 Q209.4,546.2 209.2,544.2 Z" fill="#fff" opacity="0.95" filter="url(#b0)"/>
<rect x="234.8" y="516.0" width="18.7" height="27.3" fill="url(#gl)" opacity="0.45" filter="url(#b1)"/>
<rect x="234.0" y="520.7" width="3" height="22.6" fill="url(#gw)" opacity="1.00" filter="url(#b1)"/>
<rect x="251.3" y="520.7" width="3" height="22.6" fill="url(#gw)" opacity="1.00" filter="url(#b1)"/>
<rect x="233.8" y="537.8" width="20.7" height="7.5" rx="3" fill="#fff" opacity="0.40" filter="url(#b2)"/>
<path d="M234.4,537.3 Q244.2,541.7 253.9,537.3 L253.9,542.3 Q253.7,544.3 251.5,544.3 L236.8,544.3 Q234.6,544.3 234.4,542.3 Z" fill="#fff" opacity="1.0" filter="url(#b0)"/>
<rect x="260.4" y="510.0" width="18.8" height="36.4" fill="url(#gl)" opacity="0.45" filter="url(#b1)"/>
<rect x="259.6" y="520.5" width="3" height="25.9" fill="url(#gw)" opacity="1.00" filter="url(#b1)"/>
<rect x="277.0" y="520.5" width="3" height="25.9" fill="url(#gw)" opacity="1.00" filter="url(#b1)"/>
<rect x="259.4" y="541.0" width="20.8" height="7.4" rx="3" fill="#fff" opacity="0.40" filter="url(#b2)"/>
<path d="M260.0,540.5 Q269.8,544.9 279.6,540.5 L279.6,545.4 Q279.4,547.4 277.2,547.4 L262.4,547.4 Q260.2,547.4 260.0,545.4 Z" fill="#fff" opacity="1.0" filter="url(#b0)"/>
<rect x="292.5" y="512.0" width="17.7" height="40.2" fill="url(#gl)" opacity="0.45" filter="url(#b1)"/>
<rect x="291.7" y="527.3" width="3" height="24.9" fill="url(#gw)" opacity="0.90" filter="url(#b1)"/>
<rect x="308.0" y="527.3" width="3" height="24.9" fill="url(#gw)" opacity="0.90" filter="url(#b1)"/>
<rect x="291.5" y="547.8" width="19.7" height="6.4" rx="3" fill="#fff" opacity="0.36" filter="url(#b2)"/>
<path d="M292.1,547.3 Q301.4,551.7 310.6,547.3 L310.6,551.2 Q310.4,553.2 308.2,553.2 L294.5,553.2 Q292.3,553.2 292.1,551.2 Z" fill="#fff" opacity="0.9" filter="url(#b0)"/>
<rect x="315.0" y="542.0" width="18.6" height="21.0" fill="url(#gl)" opacity="0.41" filter="url(#b1)"/>
<rect x="314.2" y="545.5" width="3" height="17.5" fill="url(#gw)" opacity="0.95" filter="url(#b1)"/>
<rect x="331.4" y="545.5" width="3" height="17.5" fill="url(#gw)" opacity="0.95" filter="url(#b1)"/>
<rect x="314.0" y="558.2" width="20.6" height="6.8" rx="3" fill="#fff" opacity="0.38" filter="url(#b2)"/>
<path d="M314.6,557.7 Q324.3,562.1 334.0,557.7 L334.0,562.0 Q333.8,564.0 331.6,564.0 L317.0,564.0 Q314.8,564.0 314.6,562.0 Z" fill="#fff" opacity="0.95" filter="url(#b0)"/>
<rect x="339.2" y="516.0" width="16.7" height="22.2" fill="url(#gl)" opacity="0.36" filter="url(#b1)"/>
<rect x="338.4" y="519.9" width="3" height="18.3" fill="url(#gw)" opacity="0.80" filter="url(#b1)"/>
<rect x="353.7" y="519.9" width="3" height="18.3" fill="url(#gw)" opacity="0.80" filter="url(#b1)"/>
<rect x="338.2" y="533.8" width="18.7" height="6.4" rx="3" fill="#fff" opacity="0.32" filter="url(#b2)"/>
<path d="M338.8,533.3 Q347.5,537.7 356.3,533.3 L356.3,537.2 Q356.1,539.2 353.9,539.2 L341.2,539.2 Q339.0,539.2 338.8,537.2 Z" fill="#fff" opacity="0.8" filter="url(#b0)"/>
<rect x="360.6" y="508.0" width="19.4" height="19.9" fill="url(#gl)" opacity="0.36" filter="url(#b1)"/>
<rect x="359.8" y="511.4" width="3" height="16.5" fill="url(#gw)" opacity="0.82" filter="url(#b1)"/>
<rect x="377.8" y="511.4" width="3" height="16.5" fill="url(#gw)" opacity="0.82" filter="url(#b1)"/>
<rect x="359.6" y="523.6" width="21.4" height="6.3" rx="3" fill="#fff" opacity="0.33" filter="url(#b2)"/>
<path d="M360.2,523.1 Q370.3,527.5 380.4,523.1 L380.4,526.9 Q380.2,528.9 378.0,528.9 L362.6,528.9 Q360.4,528.9 360.2,526.9 Z" fill="#fff" opacity="0.82" filter="url(#b0)"/>
<rect x="385.0" y="512.0" width="19.0" height="20.0" fill="url(#gl)" opacity="0.32" filter="url(#b1)"/>
<rect x="384.2" y="515.5" width="3" height="16.5" fill="url(#gw)" opacity="0.74" filter="url(#b1)"/>
<rect x="401.8" y="515.5" width="3" height="16.5" fill="url(#gw)" opacity="0.74" filter="url(#b1)"/>
<rect x="384.0" y="527.8" width="21.0" height="6.2" rx="3" fill="#fff" opacity="0.30" filter="url(#b2)"/>
<path d="M384.6,527.3 Q394.5,531.7 404.4,527.3 L404.4,531.0 Q404.2,533.0 402.0,533.0 L387.0,533.0 Q384.8,533.0 384.6,531.0 Z" fill="#fff" opacity="0.74" filter="url(#b0)"/>
<rect x="415.6" y="534.0" width="19.2" height="30.4" fill="url(#gl)" opacity="0.50" filter="url(#b1)"/>
<rect x="414.8" y="539.1" width="3" height="25.3" fill="url(#gw)" opacity="1.00" filter="url(#b1)"/>
<rect x="432.6" y="539.1" width="3" height="25.3" fill="url(#gw)" opacity="1.00" filter="url(#b1)"/>
<rect x="414.6" y="558.1" width="21.2" height="8.3" rx="3" fill="#fff" opacity="0.40" filter="url(#b2)"/>
<path d="M415.2,557.6 Q425.2,562.0 435.2,557.6 L435.2,563.4 Q435.0,565.4 432.8,565.4 L417.6,565.4 Q415.4,565.4 415.2,563.4 Z" fill="#fff" opacity="1.0" filter="url(#b0)"/>
<rect x="485.0" y="498.0" width="17.4" height="37.0" fill="url(#gl)" opacity="0.45" filter="url(#b1)"/>
<rect x="484.2" y="508.1" width="3" height="26.9" fill="url(#gw)" opacity="1.00" filter="url(#b1)"/>
<rect x="500.2" y="508.1" width="3" height="26.9" fill="url(#gw)" opacity="1.00" filter="url(#b1)"/>
<rect x="484.0" y="528.6" width="19.4" height="8.4" rx="3" fill="#fff" opacity="0.40" filter="url(#b2)"/>
<path d="M484.6,528.1 Q493.7,532.5 502.8,528.1 L502.8,534.0 Q502.6,536.0 500.4,536.0 L487.0,536.0 Q484.8,536.0 484.6,534.0 Z" fill="#fff" opacity="1.0" filter="url(#b0)"/>
<rect x="506.9" y="500.0" width="17.3" height="23.3" fill="url(#gl)" opacity="0.45" filter="url(#b1)"/>
<rect x="506.1" y="503.6" width="3" height="19.7" fill="url(#gw)" opacity="0.95" filter="url(#b1)"/>
<rect x="522.0" y="503.6" width="3" height="19.7" fill="url(#gw)" opacity="0.95" filter="url(#b1)"/>
<rect x="505.9" y="516.6" width="19.3" height="8.7" rx="3" fill="#fff" opacity="0.38" filter="url(#b2)"/>
<path d="M506.5,516.1 Q515.5,520.5 524.6,516.1 L524.6,522.3 Q524.4,524.3 522.2,524.3 L508.9,524.3 Q506.7,524.3 506.5,522.3 Z" fill="#fff" opacity="0.95" filter="url(#b0)"/>
<rect x="530.0" y="500.0" width="16.8" height="19.4" fill="url(#gl)" opacity="0.41" filter="url(#b1)"/>
<rect x="529.2" y="503.3" width="3" height="16.1" fill="url(#gw)" opacity="0.80" filter="url(#b1)"/>
<rect x="544.6" y="503.3" width="3" height="16.1" fill="url(#gw)" opacity="0.80" filter="url(#b1)"/>
<rect x="529.0" y="515.2" width="18.8" height="6.2" rx="3" fill="#fff" opacity="0.32" filter="url(#b2)"/>
<path d="M529.6,514.7 Q538.4,519.1 547.2,514.7 L547.2,518.4 Q547.0,520.4 544.8,520.4 L532.0,520.4 Q529.8,520.4 529.6,518.4 Z" fill="#fff" opacity="0.8" filter="url(#b0)"/>
<rect x="559.6" y="522.0" width="15.4" height="29.6" fill="url(#gl)" opacity="0.45" filter="url(#b1)"/>
<rect x="558.8" y="527.2" width="3" height="24.4" fill="url(#gw)" opacity="0.90" filter="url(#b1)"/>
<rect x="572.8" y="527.2" width="3" height="24.4" fill="url(#gw)" opacity="0.90" filter="url(#b1)"/>
<rect x="558.6" y="546.6" width="17.4" height="7.0" rx="3" fill="#fff" opacity="0.36" filter="url(#b2)"/>
<path d="M559.2,546.1 Q567.3,550.5 575.4,546.1 L575.4,550.6 Q575.2,552.6 573.0,552.6 L561.6,552.6 Q559.4,552.6 559.2,550.6 Z" fill="#fff" opacity="0.9" filter="url(#b0)"/>
<rect x="620.0" y="506.0" width="13.5" height="23.7" fill="url(#gl)" opacity="0.41" filter="url(#b1)"/>
<rect x="619.2" y="510.2" width="3" height="19.5" fill="url(#gw)" opacity="0.82" filter="url(#b1)"/>
<rect x="631.3" y="510.2" width="3" height="19.5" fill="url(#gw)" opacity="0.82" filter="url(#b1)"/>
<rect x="619.0" y="525.6" width="15.5" height="6.1" rx="3" fill="#fff" opacity="0.33" filter="url(#b2)"/>
<path d="M619.6,525.1 Q626.8,529.5 633.9,525.1 L633.9,528.7 Q633.7,530.7 631.5,530.7 L622.0,530.7 Q619.8,530.7 619.6,528.7 Z" fill="#fff" opacity="0.82" filter="url(#b0)"/>
<rect x="641.2" y="497.0" width="15.5" height="15.4" fill="url(#gl)" opacity="0.45" filter="url(#b1)"/>
<rect x="640.4" y="499.2" width="3" height="13.2" fill="url(#gw)" opacity="0.88" filter="url(#b1)"/>
<rect x="654.5" y="499.2" width="3" height="13.2" fill="url(#gw)" opacity="0.88" filter="url(#b1)"/>
<rect x="640.2" y="506.6" width="17.5" height="7.8" rx="3" fill="#fff" opacity="0.35" filter="url(#b2)"/>
<path d="M640.8,506.1 Q649.0,510.5 657.1,506.1 L657.1,511.4 Q656.9,513.4 654.7,513.4 L643.2,513.4 Q641.0,513.4 640.8,511.4 Z" fill="#fff" opacity="0.88" filter="url(#b0)"/>
<rect x="661.0" y="499.0" width="15.5" height="19.7" fill="url(#gl)" opacity="0.41" filter="url(#b1)"/>
<rect x="660.2" y="502.4" width="3" height="16.3" fill="url(#gw)" opacity="0.82" filter="url(#b1)"/>
<rect x="674.3" y="502.4" width="3" height="16.3" fill="url(#gw)" opacity="0.82" filter="url(#b1)"/>
<rect x="660.0" y="514.6" width="17.5" height="6.1" rx="3" fill="#fff" opacity="0.33" filter="url(#b2)"/>
<path d="M660.6,514.1 Q668.8,518.5 676.9,514.1 L676.9,517.7 Q676.7,519.7 674.5,519.7 L663.0,519.7 Q660.8,519.7 660.6,517.7 Z" fill="#fff" opacity="0.82" filter="url(#b0)"/>
<rect x="464.5" y="562.0" width="18.0" height="22.4" fill="url(#gl)" opacity="0.36" filter="url(#b1)"/>
<rect x="463.7" y="565.8" width="3" height="18.6" fill="url(#gw)" opacity="0.50" filter="url(#b1)"/>
<rect x="480.3" y="565.8" width="3" height="18.6" fill="url(#gw)" opacity="0.50" filter="url(#b1)"/>
<rect x="463.5" y="579.6" width="20.0" height="6.8" rx="3" fill="#fff" opacity="0.20" filter="url(#b2)"/>
<path d="M464.1,579.1 Q473.5,583.5 482.9,579.1 L482.9,583.4 Q482.7,585.4 480.5,585.4 L466.5,585.4 Q464.3,585.4 464.1,583.4 Z" fill="#fff" opacity="0.5" filter="url(#b0)"/>
<rect x="440" y="572" width="17" height="12" rx="3" fill="#fff" opacity="0.12" filter="url(#b3)"/>
</g>
<line x1="135.7" y1="497.6" x2="135.7" y2="589" stroke="#d8d8d8" stroke-width="0.9" stroke-linecap="butt"/>
<line x1="286.3" y1="497.6" x2="286.3" y2="589" stroke="#d8d8d8" stroke-width="0.9" stroke-linecap="butt"/>
<line x1="407.6" y1="497.6" x2="407.6" y2="589" stroke="#d8d8d8" stroke-width="0.9" stroke-linecap="butt"/>
<line x1="553.3" y1="497.6" x2="553.3" y2="589" stroke="#d8d8d8" stroke-width="0.9" stroke-linecap="butt"/>
<text x="22.3" y="535" font-size="9.2" fill="#fff" text-anchor="start" font-weight="bold">P<tspan dy="2.02" font-size="6.07">1</tspan></text>
<text x="45.8" y="560.5" font-size="9.2" fill="#fff" text-anchor="start" font-weight="bold">P<tspan dy="2.02" font-size="6.07">11</tspan></text>
<text x="68" y="560.5" font-size="9.2" fill="#fff" text-anchor="start" font-weight="bold">P<tspan dy="2.02" font-size="6.07">12</tspan></text>
<text x="90" y="523" font-size="9.2" fill="#fff" text-anchor="start" font-weight="bold">P-1</text>
<text x="106" y="518.4" font-size="8.799999999999999" fill="#fff" text-anchor="start" font-weight="bold">(P-1)/A</text>
<text x="143.3" y="535" font-size="9.2" fill="#fff" text-anchor="start" font-weight="bold">P<tspan dy="2.02" font-size="6.07">2</tspan></text>
<text x="165.9" y="561.2" font-size="9.2" fill="#fff" text-anchor="start" font-weight="bold">P<tspan dy="2.02" font-size="6.07">21</tspan></text>
<text x="190.6" y="561.2" font-size="9.2" fill="#fff" text-anchor="start" font-weight="bold">P<tspan dy="2.02" font-size="6.07">22</tspan></text>
<text x="213.7" y="531.5" font-size="9.2" fill="#fff" text-anchor="start" font-weight="bold">P-2</text>
<text x="229.6" y="524.2" font-size="8.799999999999999" fill="#fff" text-anchor="start" font-weight="bold">(P-2)/C</text>
<text x="256.2" y="531.5" font-size="8.799999999999999" fill="#fff" text-anchor="start" font-weight="bold">(P-2)/D</text>
<text x="292" y="534.2" font-size="9.2" fill="#fff" text-anchor="start" font-weight="bold">P3-1</text>
<text x="316" y="548.8" font-size="9.2" fill="#fff" text-anchor="start" font-weight="bold">P3-2</text>
<text x="326.3" y="526.2" font-size="8.799999999999999" fill="#fff" text-anchor="start" font-weight="bold">(P3-1)/E</text>
<text x="352.9" y="514.5" font-size="8.799999999999999" fill="#fff" text-anchor="start" font-weight="bold">(P3-1)/F</text>
<text x="372.9" y="543.6" font-size="8.799999999999999" fill="#fff" text-anchor="start" font-weight="bold">(P3-2)/H</text>
<text x="421.6" y="544" font-size="9.2" fill="#fff" text-anchor="start" font-weight="bold">P<tspan dy="2.02" font-size="6.07">4</tspan></text>
<text x="443.6" y="562" font-size="9.2" fill="#fff" text-anchor="start" font-weight="bold">P<tspan dy="2.02" font-size="6.07">41</tspan></text>
<text x="466" y="562" font-size="9.2" fill="#fff" text-anchor="start" font-weight="bold">P<tspan dy="2.02" font-size="6.07">42</tspan></text>
<text x="487" y="523" font-size="9.2" fill="#fff" text-anchor="start" font-weight="bold">P-4</text>
<text x="505.9" y="534.6" font-size="8.799999999999999" fill="#fff" text-anchor="start" font-weight="bold">(P-4)/G</text>
<text x="519.8" y="510" font-size="8.799999999999999" fill="#fff" text-anchor="start" font-weight="bold">(P-4)/H</text>
<text x="562.4" y="535.5" font-size="9.2" fill="#fff" text-anchor="start" font-weight="bold">P<tspan dy="2.02" font-size="6.07">5</tspan></text>
<text x="582.5" y="560.5" font-size="9.2" fill="#fff" text-anchor="start" font-weight="bold">P<tspan dy="2.02" font-size="6.07">51</tspan></text>
<text x="601.8" y="560.5" font-size="9.2" fill="#fff" text-anchor="start" font-weight="bold">P<tspan dy="2.02" font-size="6.07">52</tspan></text>
<text x="621.6" y="516.6" font-size="9.2" fill="#fff" text-anchor="start" font-weight="bold">P-5</text>
<text x="635.7" y="524.2" font-size="8.799999999999999" fill="#fff" text-anchor="start" font-weight="bold">(P-5)/I</text>
<text x="655.8" y="509.4" font-size="8.799999999999999" fill="#fff" text-anchor="start" font-weight="bold">(P-5)/J</text>
<line x1="698.5" y1="482" x2="698.5" y2="495" stroke="#e4e4e4" stroke-width="0.8" stroke-linecap="butt"/>
</g>
</svg>
</body></html>
